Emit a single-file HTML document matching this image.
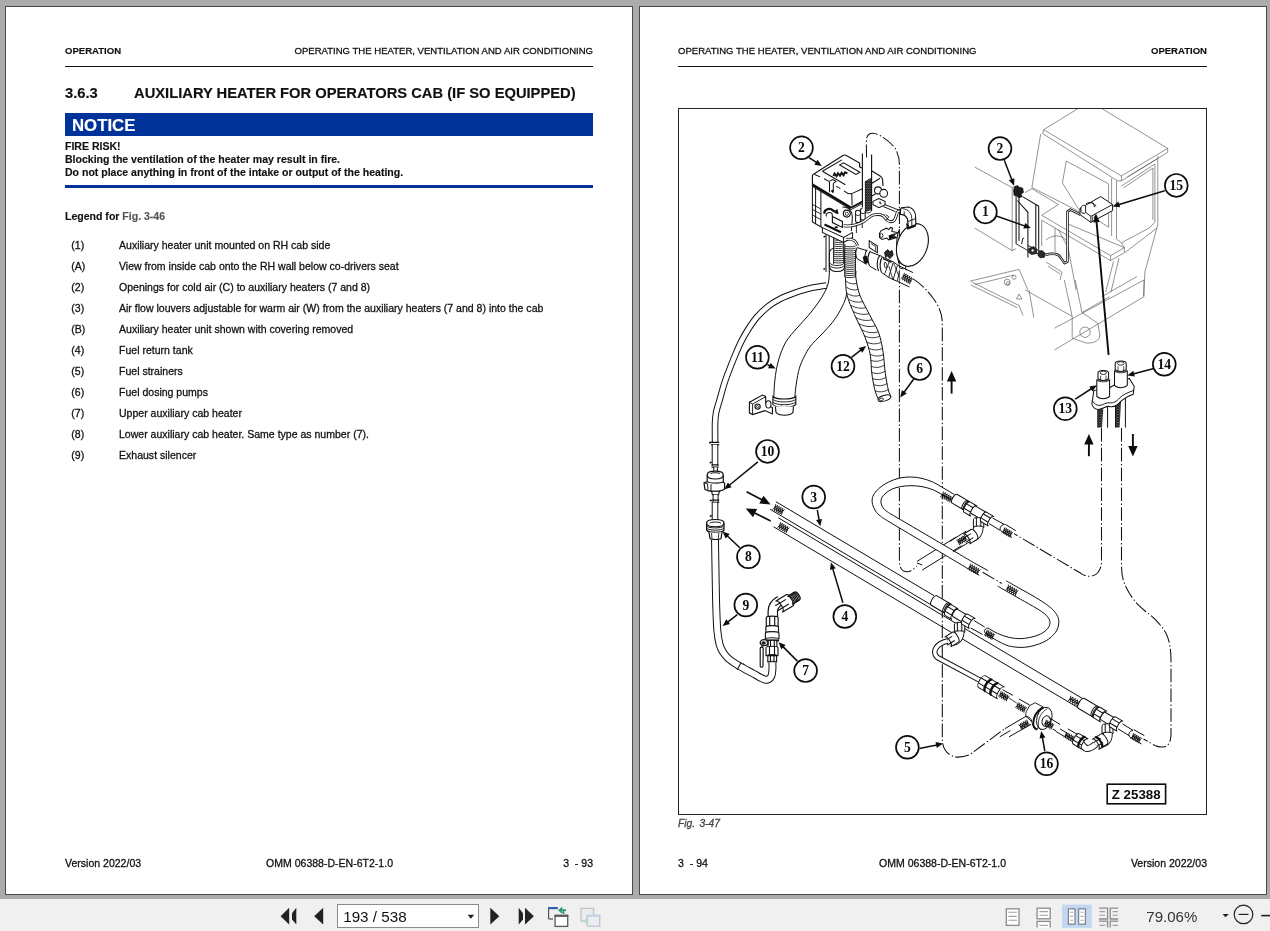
<!DOCTYPE html>
<html>
<head>
<meta charset="utf-8">
<title>OMM 06388-D-EN-6T2-1.0</title>
<style>
html,body{margin:0;padding:0;}
body{width:1270px;height:931px;overflow:hidden;background:#ababab;font-family:"Liberation Sans",sans-serif;color:#111;position:relative;}
.abs{position:absolute;white-space:nowrap;line-height:1;-webkit-text-stroke:0.28px currentColor;}
.abs.b{-webkit-text-stroke:0.15px currentColor;}
.page{position:absolute;top:6px;height:887px;background:#fff;border:1px solid #4a4a4a;box-sizing:content-box;}
#p1{left:5px;width:626px;}
#p2{left:639px;width:626px;}
.hdr{font-size:9.56px;top:45.5px;}
.b{font-weight:bold;}
.rule{position:absolute;height:1px;background:#111;}
.li{font-size:10.54px;}
.ft{font-size:10.54px;top:858px;}
#tb{position:absolute;left:0;top:899px;width:1270px;height:32px;background:#f0f0f0;}
</style>
</head>
<body>
<div class="page" id="p1"></div>
<div class="page" id="p2"></div>

<div id="txt" style="position:absolute;left:0.4px;top:0;width:1270px;height:931px;will-change:transform;">
<!-- LEFT PAGE -->
<div class="abs hdr b" style="left:65px;">OPERATION</div>
<div class="abs hdr" style="right:677px;">OPERATING THE HEATER, VENTILATION AND AIR CONDITIONING</div>
<div class="rule" style="left:65px;top:66px;width:528px;"></div>
<div class="abs b" style="left:65px;top:86px;font-size:14.73px;">3.6.3</div>
<div class="abs b" style="left:134px;top:86px;font-size:14.73px;">AUXILIARY HEATER FOR OPERATORS CAB (IF SO EQUIPPED)</div>
<div style="position:absolute;left:65px;top:113px;width:528px;height:23px;background:#003399;"></div>
<div class="abs b" style="left:72px;top:117.5px;font-size:16.8px;color:#fff;">NOTICE</div>
<div class="abs b" style="left:65px;top:140.5px;font-size:10.54px;">FIRE RISK!</div>
<div class="abs b" style="left:65px;top:153.5px;font-size:10.54px;">Blocking the ventilation of the heater may result in fire.</div>
<div class="abs b" style="left:65px;top:166.5px;font-size:10.54px;">Do not place anything in front of the intake or output of the heating.</div>
<div style="position:absolute;left:65px;top:185px;width:528px;height:3px;background:#003399;"></div>
<div class="abs b" style="left:65px;top:210.8px;font-size:10.54px;">Legend for <span style="color:#555;">Fig. 3-46</span></div>

<div class="abs li" style="left:71.3px;top:240.0px;">(1)</div><div class="abs li" style="left:119px;top:240.0px;">Auxiliary heater unit mounted on RH cab side</div>
<div class="abs li" style="left:71.3px;top:261.0px;">(A)</div><div class="abs li" style="left:119px;top:261.0px;">View from inside cab onto the RH wall below co-drivers seat</div>
<div class="abs li" style="left:71.3px;top:282.0px;">(2)</div><div class="abs li" style="left:119px;top:282.0px;">Openings for cold air (C) to auxiliary heaters (7 and 8)</div>
<div class="abs li" style="left:71.3px;top:303.0px;">(3)</div><div class="abs li" style="left:119px;top:303.0px;">Air flow louvers adjustable for warm air (W) from the auxiliary heaters (7 and 8) into the cab</div>
<div class="abs li" style="left:71.3px;top:324.0px;">(B)</div><div class="abs li" style="left:119px;top:324.0px;">Auxiliary heater unit shown with covering removed</div>
<div class="abs li" style="left:71.3px;top:345.0px;">(4)</div><div class="abs li" style="left:119px;top:345.0px;">Fuel return tank</div>
<div class="abs li" style="left:71.3px;top:366.0px;">(5)</div><div class="abs li" style="left:119px;top:366.0px;">Fuel strainers</div>
<div class="abs li" style="left:71.3px;top:387.0px;">(6)</div><div class="abs li" style="left:119px;top:387.0px;">Fuel dosing pumps</div>
<div class="abs li" style="left:71.3px;top:408.0px;">(7)</div><div class="abs li" style="left:119px;top:408.0px;">Upper auxiliary cab heater</div>
<div class="abs li" style="left:71.3px;top:429.0px;">(8)</div><div class="abs li" style="left:119px;top:429.0px;">Lower auxiliary cab heater. Same type as number (7).</div>
<div class="abs li" style="left:71.3px;top:450.0px;">(9)</div><div class="abs li" style="left:119px;top:450.0px;">Exhaust silencer</div>

<div class="abs ft" style="left:65px;">Version 2022/03</div>
<div class="abs ft" style="left:266px;">OMM 06388-D-EN-6T2-1.0</div>
<div class="abs ft" style="right:677px;">3&nbsp; - 93</div>

<!-- RIGHT PAGE -->
<div class="abs hdr" style="left:678px;">OPERATING THE HEATER, VENTILATION AND AIR CONDITIONING</div>
<div class="abs hdr b" style="right:63px;">OPERATION</div>
<div class="rule" style="left:678px;top:66px;width:529px;"></div>
<div class="abs" style="left:678px;top:819.4px;font-size:10.2px;word-spacing:1.6px;font-style:italic;color:#444;">Fig. 3-47</div>
<div class="abs ft" style="left:678px;">3&nbsp; - 94</div>
<div class="abs ft" style="left:879px;">OMM 06388-D-EN-6T2-1.0</div>
<div class="abs ft" style="right:63px;">Version 2022/03</div>

</div>
<!-- DIAGRAM -->
<svg id="dg" style="position:absolute;left:678px;top:108px;will-change:transform;" width="530" height="708" viewBox="678 108 530 708">
<rect x="678.5" y="108.5" width="528" height="706" fill="#fff" stroke="#222" stroke-width="1"/>
<g fill="none" stroke="#4a4a4a" stroke-width="0.6">
<path d="M1078.1,108.5 L1043.7,129.7 L1121.4,175.9 L1167.7,148.4 L1101.7,108.5"/>
<path d="M1043.7,129.7 L1042.7,133.6 L1117.5,180.8 L1121.4,180.8 L1121.4,175.9"/>
<path d="M1121.4,180.8 L1167.7,152.3 L1167.7,148.4"/>
<path d="M1127.3,177 L1157,159"/>
<path d="M1040.7,134 L1031.9,187.5"/>
<path d="M1111.6,178 L1111.6,236 M1116.5,181 L1116.5,239"/>
<path d="M1066.3,161.1 L1108.6,183.8 L1108.6,227.1 L1078.1,208.4 L1062.4,182.8 Z"/>
<path d="M1121.4,186 L1154.9,164 L1154.9,222.2 L1149,228.1 L1121.4,242.8"/>
<path d="M1123.4,188 L1152.9,168 L1152.9,220"/>
<path d="M1157.8,156 L1157.8,224.1 L1156.9,228 L1145,271.4 L1143.5,296"/>
<path d="M1041.7,215.3 L1110.6,255.6 L1124.4,247.6 L1124.4,252.7 L1110.6,260.6 L1041.7,220.2"/>
<path d="M1110.6,255.6 L1110.6,260.6"/>
<path d="M1068.3,224.1 L1124.4,247.6"/>
<path d="M1116.5,239 L1121.4,242.8 L1124.4,247.6"/>
<path d="M1113.5,261.5 L1105.7,292 M1119,258 L1111,292"/>
<path d="M1067.3,243.8 L1076.1,290"/>
<path d="M1156.9,228 L1125,252.5"/>
<path d="M974.8,167.1 L1012.2,187.7 L1012.2,250.7 L974.8,228.1"/>
<path d="M1012.2,187.7 L1016.1,185.8 M1016.1,248.7 L1012.2,250.7"/>
<path d="M1025,192.6 L1031.9,188.7 L1058.4,204.5 L1041.7,215.3"/>
<path d="M1031.9,187.5 L1080,212"/>
<path d="M1041.7,220.2 L1041.7,246"/>
<path d="M1055,228 L1055,252 M1058,229 L1066,244"/>
<path d="M1046,240 C1052,235 1060,234 1066,240"/>
<path d="M1046,262 L1062,272 M1048,266 L1060,274 M1062,272 L1060,280"/>
<path d="M1054.5,328.2 L1144,280 L1144,296.7 L1054.5,349.9"/>
<path d="M1072.2,316.4 L1072.2,338.1 L1086,343 C1094,343.5 1100,340.5 1099.8,335.1 L1097.8,323.3 L1082,312.5"/>
<path d="M1025,289.8 L1072.2,316.4"/>
<path d="M1064.3,280 L1072.2,316.4 M1075.2,280 L1082,312.5"/>
<path d="M1029,290 L1033.8,317.4"/>
<path d="M971.8,282 L1019.1,305.6 L1023,315.5 M970.8,285 L1017.1,307.6"/>
<path d="M969.8,281.2 L1019.1,269.4 L1027.9,290 M975,284.5 L1014,275"/>
<path d="M1101.7,296.7 L1137,276.5 M1082,312.5 L1109.6,296.7"/>
<path d="M1019,294 L1022,299 L1016.5,299 Z"/>
<circle cx="1085" cy="332.2" r="5.2"/><circle cx="1007.2" cy="282.2" r="3"/><circle cx="1014.1" cy="277.3" r="2"/><circle cx="1008" cy="283.5" r="1.6"/>
</g>
<path d="M866.4,158 L866.4,141 C866.4,135 869.5,133 873,133.2 C880,133.8 890,142 894.4,147.2 C897.5,152 899.4,158 899.4,164 L899.4,561 C899.4,568 902,571.8 907.4,571.8 C910,571.8 913,569.5 917,566.5" fill="none" stroke="#101010" stroke-width="1.05" stroke-dasharray="13.6 2.5 1.4 2.3"/>
<path d="M913.1,278.9 C920,283 928,291 933,298 C939,306 942.3,314 942.3,323 L942.3,739.4 C942.3,750 949,757.1 958,757.1 C963,757.1 967,756 970,754.5 L1005,728.5" fill="none" stroke="#101010" stroke-width="1.05" stroke-dasharray="13.6 2.5 1.4 2.3"/>
<path d="M1101.5,428 L1101.5,561 C1101.5,570 1097,576.3 1089.4,576.3 C1086,576.3 1083,575 1080.8,573.3 L1014,533.6" fill="none" stroke="#101010" stroke-width="1.05" stroke-dasharray="13.6 2.5 1.4 2.3"/>
<path d="M1121.5,428 L1121.5,566 C1121.5,576 1123.5,582 1126.5,588.1 C1129.5,594.5 1134,600.5 1138.8,605.4 C1144,610.8 1151,615 1156.1,620.3 C1162,626.5 1166,632 1167.8,637.6 C1170,644 1171,652 1171,660 L1171,734 C1171,742.5 1168,746.8 1163,747 C1160,747.2 1157.5,746.8 1155,745.5 L1143.5,739" fill="none" stroke="#101010" stroke-width="1.05" stroke-dasharray="13.6 2.5 1.4 2.3"/>
<path d="M982.6,572.2 L1003,584.2" fill="none" stroke="#101010" stroke-width="1.05" stroke-dasharray="13.6 2.5 1.4 2.3"/>
<path d="M778.3,517.8 L1083,698.8" fill="none" stroke="#101010" stroke-width="1.0"/>
<path d="M773.6,526.8 L1083,710.6" fill="none" stroke="#101010" stroke-width="1.0"/>
<path d="M775.9,501.7 L934,595.6" fill="none" stroke="#101010" stroke-width="1.0"/>
<path d="M770.2,509.3 L946,613.7" fill="none" stroke="#101010" stroke-width="1.0"/>
<g transform="translate(778.6,509.6) rotate(30.7)" stroke="#101010" stroke-width="0.85" fill="none"><path d="M-5.2,-3.1 L-3.1,3.1 M-5.2,3.1 L-3.1,-3.1 M-3.1,-3.1 L-1,3.1 M-3.1,3.1 L-1,-3.1 M-1,-3.1 L1.1,3.1 M-1,3.1 L1.1,-3.1 M1.1,-3.1 L3.2,3.1 M1.1,3.1 L3.2,-3.1 M3.2,-3.1 L5.2,3.1 M3.2,3.1 L5.2,-3.1 M-5.2,0 L5.2,0"/></g>
<g transform="translate(783.4,527.6) rotate(30.7)" stroke="#101010" stroke-width="0.85" fill="none"><path d="M-5.2,-3.1 L-3.1,3.1 M-5.2,3.1 L-3.1,-3.1 M-3.1,-3.1 L-1,3.1 M-3.1,3.1 L-1,-3.1 M-1,-3.1 L1.1,3.1 M-1,3.1 L1.1,-3.1 M1.1,-3.1 L3.2,3.1 M1.1,3.1 L3.2,-3.1 M3.2,-3.1 L5.2,3.1 M3.2,3.1 L5.2,-3.1 M-5.2,0 L5.2,0"/></g>
<path d="M956.2,537 L917,561.4 M961.4,545.7 L922.2,570.1" fill="none" stroke="#101010" stroke-width="1.0"/>
<path d="M917,563 L922.2,565" fill="none" stroke="#101010" stroke-width="1.0"/>
<path d="M954.4,494.6 C952.7,493.6 947.5,490.4 944,488.4 C940.5,486.4 937.3,484.1 933.6,482.4 C929.9,480.7 925.8,479.3 922,478.4 C918.2,477.5 914.7,477 910.9,477 C907.1,477 902.8,477.3 899,478.2 C895.2,479.1 891.5,480.6 888.3,482.2 C885.1,483.8 882.3,485.6 880,487.5 C877.7,489.4 875.7,491.6 874.4,493.5 C873.1,495.4 872.5,497.2 872.2,499 C871.9,500.8 872.1,502.5 872.6,504.5 C873.1,506.5 874.2,509.1 875.5,511 C876.8,512.9 878.1,514.2 880.5,516.1 C882.9,518 879.4,515.9 890,522.3 C900.6,528.7 930.8,546.6 944,554.4 C957.2,562.2 964.8,566.8 969,569.3 L976,564 C970.8,561 958.2,553.5 944.9,545.7 C931.6,537.9 905.6,522.6 896,517 C886.4,511.4 889.5,513.2 887.4,511.8 C885.3,510.4 884.5,509.6 883.5,508.3 C882.5,507 881.7,505.3 881.3,504 C880.9,502.7 880.9,501.7 881,500.5 C881.1,499.3 881.4,498.2 882.2,497 C883,495.8 884.4,494.3 886,493 C887.6,491.7 889.4,490.3 891.8,489.2 C894.2,488.1 897.3,487.2 900.5,486.6 C903.7,486 907.3,485.7 910.9,485.7 C914.5,485.7 918.2,485.9 922,486.6 C925.8,487.3 929.9,488.5 933.6,490 C937.3,491.5 940.8,494 944,495.8 C947.2,497.6 951.2,500.1 952.7,501 Z" fill="#fff" stroke="none"/>
<path d="M954.4,494.6 C952.7,493.6 947.5,490.4 944,488.4 C940.5,486.4 937.3,484.1 933.6,482.4 C929.9,480.7 925.8,479.3 922,478.4 C918.2,477.5 914.7,477 910.9,477 C907.1,477 902.8,477.3 899,478.2 C895.2,479.1 891.5,480.6 888.3,482.2 C885.1,483.8 882.3,485.6 880,487.5 C877.7,489.4 875.7,491.6 874.4,493.5 C873.1,495.4 872.5,497.2 872.2,499 C871.9,500.8 872.1,502.5 872.6,504.5 C873.1,506.5 874.2,509.1 875.5,511 C876.8,512.9 878.1,514.2 880.5,516.1 C882.9,518 879.4,515.9 890,522.3 C900.6,528.7 930.8,546.6 944,554.4 C957.2,562.2 964.8,566.8 969,569.3" fill="none" stroke="#101010" stroke-width="1.0"/>
<path d="M952.7,501 C951.2,500.1 947.2,497.6 944,495.8 C940.8,494 937.3,491.5 933.6,490 C929.9,488.5 925.8,487.3 922,486.6 C918.2,485.9 914.5,485.7 910.9,485.7 C907.3,485.7 903.7,486 900.5,486.6 C897.3,487.2 894.2,488.1 891.8,489.2 C889.4,490.3 887.6,491.7 886,493 C884.4,494.3 883,495.8 882.2,497 C881.4,498.2 881.1,499.3 881,500.5 C880.9,501.7 880.9,502.7 881.3,504 C881.7,505.3 882.5,507 883.5,508.3 C884.5,509.6 885.3,510.4 887.4,511.8 C889.5,513.2 886.4,511.4 896,517 C905.6,522.6 931.6,537.9 944.9,545.7 C958.2,553.5 970.8,561 976,564" fill="none" stroke="#101010" stroke-width="1.0"/>
<g transform="translate(946.6,497) rotate(30.3)" stroke="#101010" stroke-width="0.85" fill="none"><path d="M-5.5,-3.1 L-3.3,3.1 M-5.5,3.1 L-3.3,-3.1 M-3.3,-3.1 L-1.1,3.1 M-3.3,3.1 L-1.1,-3.1 M-1.1,-3.1 L1.1,3.1 M-1.1,3.1 L1.1,-3.1 M1.1,-3.1 L3.3,3.1 M1.1,3.1 L3.3,-3.1 M3.3,-3.1 L5.5,3.1 M3.3,3.1 L5.5,-3.1 M-5.5,0 L5.5,0"/></g>
<g transform="translate(974,569.3) rotate(30.3)" stroke="#101010" stroke-width="0.85" fill="none"><path d="M-5.8,-3.1 L-3.5,3.1 M-5.8,3.1 L-3.5,-3.1 M-3.5,-3.1 L-1.2,3.1 M-3.5,3.1 L-1.2,-3.1 M-1.2,-3.1 L1.1,3.1 M-1.2,3.1 L1.1,-3.1 M1.1,-3.1 L3.4,3.1 M1.1,3.1 L3.4,-3.1 M3.4,-3.1 L5.7,3.1 M3.4,3.1 L5.7,-3.1 M-5.8,0 L5.8,0"/></g>
<path d="M976,564 L987.9,570.5 M969,569.3 L979.3,575.3" fill="none" stroke="#101010" stroke-width="1.0"/>
<path d="M1006.2,580.8 C1008.5,582.1 1015.2,585.9 1020,588.6 C1024.8,591.3 1030.3,594.2 1035.2,597.2 C1040.1,600.2 1045.6,603.6 1049.2,606.5 C1052.8,609.4 1055.1,611.9 1056.7,614.6 C1058.3,617.3 1059,619.8 1058.8,622.7 C1058.6,625.7 1057.8,629.3 1055.6,632.3 C1053.4,635.3 1049.7,638.6 1045.9,640.9 C1042.1,643.1 1037.1,644.7 1033,645.8 C1028.9,646.9 1025.3,647.4 1021.2,647.4 C1017.1,647.4 1012.2,646.9 1008.3,645.8 C1004.4,644.7 1001.2,642.8 997.6,640.9 C994,639 988.7,635.6 986.9,634.5 L987.9,628 C989.5,628.9 994.2,631.9 997.6,633.4 C1001,634.9 1004.4,636.3 1008.3,637.2 C1012.2,638.1 1016.7,638.8 1021.2,638.6 C1025.7,638.4 1031.2,637.3 1035.2,636.1 C1039.2,634.9 1042.5,633.2 1044.9,631.3 C1047.3,629.4 1049.1,626.9 1049.7,624.8 C1050.3,622.6 1050.1,620.6 1048.7,618.4 C1047.3,616.2 1045.6,614.3 1041.6,611.5 C1037.5,608.7 1029.7,604.4 1024.4,601.4 C1019.1,598.4 1014.5,595.8 1010,593.2 C1005.5,590.7 999.7,587.3 997.6,586.1 Z" fill="#fff" stroke="none"/>
<path d="M1006.2,580.8 C1008.5,582.1 1015.2,585.9 1020,588.6 C1024.8,591.3 1030.3,594.2 1035.2,597.2 C1040.1,600.2 1045.6,603.6 1049.2,606.5 C1052.8,609.4 1055.1,611.9 1056.7,614.6 C1058.3,617.3 1059,619.8 1058.8,622.7 C1058.6,625.7 1057.8,629.3 1055.6,632.3 C1053.4,635.3 1049.7,638.6 1045.9,640.9 C1042.1,643.1 1037.1,644.7 1033,645.8 C1028.9,646.9 1025.3,647.4 1021.2,647.4 C1017.1,647.4 1012.2,646.9 1008.3,645.8 C1004.4,644.7 1001.2,642.8 997.6,640.9 C994,639 988.7,635.6 986.9,634.5" fill="none" stroke="#101010" stroke-width="1.0"/>
<path d="M997.6,586.1 C999.7,587.3 1005.5,590.7 1010,593.2 C1014.5,595.8 1019.1,598.4 1024.4,601.4 C1029.7,604.4 1037.5,608.7 1041.6,611.5 C1045.6,614.3 1047.3,616.2 1048.7,618.4 C1050.1,620.6 1050.3,622.6 1049.7,624.8 C1049.1,626.9 1047.3,629.4 1044.9,631.3 C1042.5,633.2 1039.2,634.9 1035.2,636.1 C1031.2,637.3 1025.7,638.4 1021.2,638.6 C1016.7,638.8 1012.2,638.1 1008.3,637.2 C1004.4,636.3 1001,634.9 997.6,633.4 C994.2,631.9 989.5,628.9 987.9,628" fill="none" stroke="#101010" stroke-width="1.0"/>
<g transform="translate(1012,590.2) rotate(30)" stroke="#101010" stroke-width="0.85" fill="none"><path d="M-5.8,-3.1 L-3.5,3.1 M-5.8,3.1 L-3.5,-3.1 M-3.5,-3.1 L-1.2,3.1 M-3.5,3.1 L-1.2,-3.1 M-1.2,-3.1 L1.1,3.1 M-1.2,3.1 L1.1,-3.1 M1.1,-3.1 L3.4,3.1 M1.1,3.1 L3.4,-3.1 M3.4,-3.1 L5.7,3.1 M3.4,3.1 L5.7,-3.1 M-5.8,0 L5.8,0"/></g>
<g transform="translate(989.5,634.8) rotate(30)" stroke="#101010" stroke-width="0.85" fill="none"><path d="M-4.5,-3.2 L-2.7,3.2 M-4.5,3.2 L-2.7,-3.2 M-2.7,-3.2 L-0.9,3.2 M-2.7,3.2 L-0.9,-3.2 M-0.9,-3.2 L0.9,3.2 M-0.9,3.2 L0.9,-3.2 M0.9,-3.2 L2.7,3.2 M0.9,3.2 L2.7,-3.2 M2.7,-3.2 L4.5,3.2 M2.7,3.2 L4.5,-3.2 M-4.5,0 L4.5,0"/></g>
<path d="M986.9,634.5 C983.5,632.5 983.8,628.5 987.9,628" fill="none" stroke="#101010" stroke-width="1.0"/>
<path d="M974,620.5 L984.7,627 M970.7,628 L982.6,634.5" fill="none" stroke="#101010" stroke-width="1.0"/>
<path d="M966.2,531.1 L950,541.3 M969.7,541.7 L953,552" fill="none" stroke="#101010" stroke-width="1.0"/>
<g transform="translate(962,540) rotate(-32)" stroke="#101010" stroke-width="0.85" fill="none"><path d="M-4.8,-3 L-2.9,3 M-4.8,3 L-2.9,-3 M-2.9,-3 L-1,3 M-2.9,3 L-1,-3 M-1,-3 L0.9,3 M-1,3 L0.9,-3 M0.9,-3 L2.8,3 M0.9,3 L2.8,-3 M2.8,-3 L4.8,3 M2.8,3 L4.8,-3 M-4.8,0 L4.8,0"/></g>
<g transform="translate(961.2,502.6) rotate(30.7)" stroke="#101010" stroke-width="1.0" fill="none"><path d="M-7.5,-5 L7.5,-5 A2.2,5 0 0 0 7.5,5 L-7.5,5 A2.2,5 0 0 1 -7.5,-5 Z" fill="#fff"/><path d="M4.6,-5 A2.2,5 0 0 0 4.6,5"/><path d="M6.2,-5 A2.2,5 0 0 0 6.2,5"/></g>
<path d="M978.6,524 Q979.5,536 968.5,538.2" fill="none" stroke="#101010" stroke-width="10.1" stroke-linecap="butt" stroke-linejoin="round"/>
<path d="M978.6,524 Q979.5,536 968.5,538.2" fill="none" stroke="#fff" stroke-width="8.3" stroke-linecap="butt" stroke-linejoin="round"/>
<g transform="translate(979.5,513.4) rotate(30.7)" stroke="#101010" stroke-width="1.0" fill="none"><path d="M-7,-4.3 L7,-4.3 A1.9,4.3 0 0 0 7,4.3 L-7,4.3 A1.9,4.3 0 0 1 -7,-4.3 Z" fill="#fff"/></g>
<g transform="translate(978.6,523.4) rotate(90)" stroke="#101010" stroke-width="1.0" fill="none"><path d="M-4.2,-5.2 L4.2,-5.2 A1.6,5.2 0 0 0 4.2,5.2 L-4.2,5.2 A1.6,5.2 0 0 1 -4.2,-5.2 Z" fill="#fff"/><path d="M-5.7,-2.2 L2.8,-2.2 M-5.7,2.2 L2.8,2.2"/></g>
<g transform="translate(970.6,509.2) rotate(30.7)" stroke="#101010" stroke-width="1.0" fill="none"><path d="M-3.8,-6 L3.8,-6 A2.6,6 0 0 0 3.8,6 L-3.8,6 A2.6,6 0 0 1 -3.8,-6 Z" fill="#fff"/><path d="M-6.1,-2.5 L1.4,-2.5 M-6.1,2.5 L1.4,2.5"/></g>
<g transform="translate(987.6,519.2) rotate(30.7)" stroke="#101010" stroke-width="1.0" fill="none"><path d="M-4.2,-5.5 L4.2,-5.5 A2.4,5.5 0 0 0 4.2,5.5 L-4.2,5.5 A2.4,5.5 0 0 1 -4.2,-5.5 Z" fill="#fff"/><path d="M-6.4,-2.3 L2.1,-2.3 M-6.4,2.3 L2.1,2.3"/></g>
<g transform="translate(970.2,536.8) rotate(-32)" stroke="#101010" stroke-width="1.0" fill="none"><path d="M-4.5,-5.8 L4.5,-5.8 A2.5,5.8 0 0 1 4.5,5.8 L-4.5,5.8 A2.5,5.8 0 0 0 -4.5,-5.8 Z" fill="#fff"/><path d="M-6.8,-2.4 L2.2,-2.4 M-6.8,2.4 L2.2,2.4"/></g>
<path d="M992.5,518 L1004.5,524.6 M989,523.6 L1000.2,530.4" fill="none" stroke="#101010" stroke-width="1.0"/>
<path d="M1004.5,524.3 C1000.5,525 998.8,529 1001.2,531.2" fill="none" stroke="#101010" stroke-width="1.0"/>
<path d="M1005.2,524.3 L1015.8,530.7 M1001.2,531.2 L1012,537.5" fill="none" stroke="#101010" stroke-width="1.0"/>
<g transform="translate(1007.4,532.4) rotate(30.7)" stroke="#101010" stroke-width="0.85" fill="none"><path d="M-4.8,-3 L-2.9,3 M-4.8,3 L-2.9,-3 M-2.9,-3 L-1,3 M-2.9,3 L-1,-3 M-1,-3 L0.9,3 M-1,3 L0.9,-3 M0.9,-3 L2.8,3 M0.9,3 L2.8,-3 M2.8,-3 L4.8,3 M2.8,3 L4.8,-3 M-4.8,0 L4.8,0"/></g>
<g transform="translate(941.5,604.9) rotate(30.7)" stroke="#101010" stroke-width="1.0" fill="none"><path d="M-8.5,-5.5 L8.5,-5.5 A2.4,5.5 0 0 0 8.5,5.5 L-8.5,5.5 A2.4,5.5 0 0 1 -8.5,-5.5 Z" fill="#fff"/><path d="M5.6,-5.5 A2.4,5.5 0 0 0 5.6,5.5"/><path d="M7.2,-5.5 A2.4,5.5 0 0 0 7.2,5.5"/></g>
<path d="M959.6,629 Q960.3,641 950.5,641.2" fill="none" stroke="#101010" stroke-width="9.9" stroke-linecap="butt" stroke-linejoin="round"/>
<path d="M959.6,629 Q960.3,641 950.5,641.2" fill="none" stroke="#fff" stroke-width="8.1" stroke-linecap="butt" stroke-linejoin="round"/>
<g transform="translate(961.4,616.6) rotate(30.7)" stroke="#101010" stroke-width="1.0" fill="none"><path d="M-7,-4.3 L7,-4.3 A1.9,4.3 0 0 0 7,4.3 L-7,4.3 A1.9,4.3 0 0 1 -7,-4.3 Z" fill="#fff"/></g>
<g transform="translate(959.6,628.2) rotate(90)" stroke="#101010" stroke-width="1.0" fill="none"><path d="M-4.2,-5.2 L4.2,-5.2 A1.6,5.2 0 0 0 4.2,5.2 L-4.2,5.2 A1.6,5.2 0 0 1 -4.2,-5.2 Z" fill="#fff"/><path d="M-5.7,-2.2 L2.8,-2.2 M-5.7,2.2 L2.8,2.2"/></g>
<g transform="translate(951.8,612.2) rotate(30.7)" stroke="#101010" stroke-width="1.0" fill="none"><path d="M-3.8,-6.2 L3.8,-6.2 A2.8,6.2 0 0 0 3.8,6.2 L-3.8,6.2 A2.8,6.2 0 0 1 -3.8,-6.2 Z" fill="#fff"/><path d="M-6.2,-2.6 L1.3,-2.6 M-6.2,2.6 L1.3,2.6"/></g>
<g transform="translate(968.8,621.5) rotate(30.7)" stroke="#101010" stroke-width="1.0" fill="none"><path d="M-4.2,-5.8 L4.2,-5.8 A2.5,5.8 0 0 0 4.2,5.8 L-4.2,5.8 A2.5,5.8 0 0 1 -4.2,-5.8 Z" fill="#fff"/><path d="M-6.5,-2.4 L2,-2.4 M-6.5,2.4 L2,2.4"/></g>
<g transform="translate(951.5,639.6) rotate(-32)" stroke="#101010" stroke-width="1.0" fill="none"><path d="M-4.5,-5.8 L4.5,-5.8 A2.5,5.8 0 0 1 4.5,5.8 L-4.5,5.8 A2.5,5.8 0 0 0 -4.5,-5.8 Z" fill="#fff"/><path d="M-6.8,-2.4 L2.2,-2.4 M-6.8,2.4 L2.2,2.4"/></g>
<path d="M947.5,641 C943,642 938,645 936,648 C934,651 934.6,655 937.4,657.5 L983,681.9" fill="none" stroke="#101010" stroke-width="5.6" stroke-linecap="butt" stroke-linejoin="round"/>
<path d="M947.5,641 C943,642 938,645 936,648 C934,651 934.6,655 937.4,657.5 L983,681.9" fill="none" stroke="#fff" stroke-width="3.6" stroke-linecap="butt" stroke-linejoin="round"/>
<g transform="translate(991.6,687.4) rotate(30.7)" stroke="#101010" stroke-width="1.0" fill="none"><path d="M-11,-6.8 L11,-6.8 A3,6.8 0 0 0 11,6.8 L-11,6.8 A3,6.8 0 0 1 -11,-6.8 Z" fill="#fff"/><path d="M-4,-6.8 A3,6.8 0 0 0 -4,6.8"/><path d="M3,-6.8 A3,6.8 0 0 0 3,6.8"/><path d="M-3.2,-6.8 A3,6.8 0 0 0 -3.2,6.8" stroke-width="2.2"/><path d="M3.8,-6.8 A3,6.8 0 0 0 3.8,6.8" stroke-width="2.2"/><path d="M-13.7,-2.8 L8.3,-2.8 M-13.7,2.8 L8.3,2.8"/></g>
<path d="M1002.6,689.7 L1012.9,695.4" fill="none" stroke="#101010" stroke-width="1.0"/>
<g transform="translate(1003.8,696.2) rotate(30.7)" stroke="#101010" stroke-width="0.85" fill="none"><path d="M-4.8,-3 L-2.9,3 M-4.8,3 L-2.9,-3 M-2.9,-3 L-1,3 M-2.9,3 L-1,-3 M-1,-3 L0.9,3 M-1,3 L0.9,-3 M0.9,-3 L2.8,3 M0.9,3 L2.8,-3 M2.8,-3 L4.8,3 M2.8,3 L4.8,-3 M-4.8,0 L4.8,0"/></g>
<path d="M1008.3,697.5 L1016.8,703.2" fill="none" stroke="#101010" stroke-width="0.8"/>
<path d="M1018.9,698.9 L1029.6,705" fill="none" stroke="#101010" stroke-width="1.0"/>
<g transform="translate(1021,707.5) rotate(30.7)" stroke="#101010" stroke-width="0.85" fill="none"><path d="M-5,-3 L-3,3 M-5,3 L-3,-3 M-3,-3 L-1,3 M-3,3 L-1,-3 M-1,-3 L1,3 M-1,3 L1,-3 M1,-3 L3,3 M1,3 L3,-3 M3,-3 L5,3 M3,3 L5,-3 M-5,0 L5,0"/></g>
<path d="M1004.8,728.7 L1026,716.3 M1009,736.8 L1031,724.4 M999.8,736.8 L1010.4,730.5" fill="none" stroke="#101010" stroke-width="1.0"/>
<g transform="translate(1024.2,724.8) rotate(-30)" stroke="#101010" stroke-width="0.85" fill="none"><path d="M-4.8,-3 L-2.9,3 M-4.8,3 L-2.9,-3 M-2.9,-3 L-1,3 M-2.9,3 L-1,-3 M-1,-3 L0.9,3 M-1,3 L0.9,-3 M0.9,-3 L2.8,3 M0.9,3 L2.8,-3 M2.8,-3 L4.8,3 M2.8,3 L4.8,-3 M-4.8,0 L4.8,0"/></g>
<path d="M1029.6,705.6 L1035.2,702.8 L1043.4,707.2 L1037.6,729.3 C1033,727.5 1031.8,722 1031.8,721.6 L1026,716.5 C1025.4,714.5 1026,712.5 1026.3,711.6 Z" fill="#fff" stroke="#101010" stroke-width="0.9"/>
<path d="M1026,716.5 C1029,716.3 1031.5,719 1031.8,721.6" fill="none" stroke="#101010" stroke-width="1.0"/>
<ellipse cx="1044.3" cy="718.4" rx="7.4" ry="11.4" transform="rotate(17 1044.3 718.4)" fill="#fff" stroke="#101010" stroke-width="0.9"/>
<path d="M1043.2,707.2 C1037,711 1033.4,717 1033.2,723.5 C1033.2,726 1034.6,728.5 1036.8,729.6" fill="none" stroke="#101010" stroke-width="2.0"/>
<path d="M1047.5,708.5 C1041.5,712 1038,718 1038.3,725.2 C1038.5,727.5 1039.5,729 1041,729.8" fill="none" stroke="#101010" stroke-width="0.8"/>
<ellipse cx="1046.2" cy="721.2" rx="4.1" ry="5.6" transform="rotate(17 1046.2 721.2)" fill="#fff" stroke="#101010" stroke-width="0.9"/>
<path d="M1048.7,717.4 L1060,724.4 M1052.8,729 L1056,731" fill="none" stroke="#101010" stroke-width="1.0"/>
<g transform="translate(1048.8,724.6) rotate(30.7)" stroke="#101010" stroke-width="0.85" fill="none"><path d="M-4.5,-3 L-2.7,3 M-4.5,3 L-2.7,-3 M-2.7,-3 L-0.9,3 M-2.7,3 L-0.9,-3 M-0.9,-3 L0.9,3 M-0.9,3 L0.9,-3 M0.9,-3 L2.7,3 M0.9,3 L2.7,-3 M2.7,-3 L4.5,3 M2.7,3 L4.5,-3 M-4.5,0 L4.5,0"/></g>
<path d="M1056,731.5 L1064.5,736.6" fill="none" stroke="#101010" stroke-width="1.0"/>
<g transform="translate(1075,701.6) rotate(30.7)" stroke="#101010" stroke-width="0.85" fill="none"><path d="M-6.5,-2.8 L-3.9,2.8 M-6.5,2.8 L-3.9,-2.8 M-3.9,-2.8 L-1.3,2.8 M-3.9,2.8 L-1.3,-2.8 M-1.3,-2.8 L1.3,2.8 M-1.3,2.8 L1.3,-2.8 M1.3,-2.8 L3.9,2.8 M1.3,2.8 L3.9,-2.8 M3.9,-2.8 L6.5,2.8 M3.9,2.8 L6.5,-2.8 M-6.5,0 L6.5,0"/></g>
<g transform="translate(1089.4,708.2) rotate(30.7)" stroke="#101010" stroke-width="1.0" fill="none"><path d="M-9.2,-5.8 L9.2,-5.8 A2.5,5.8 0 0 0 9.2,5.8 L-9.2,5.8 A2.5,5.8 0 0 1 -9.2,-5.8 Z" fill="#fff"/><path d="M6.2,-5.8 A2.5,5.8 0 0 0 6.2,5.8"/><path d="M7.8,-5.8 A2.5,5.8 0 0 0 7.8,5.8"/></g>
<path d="M1107.5,730 Q1109.5,743 1099,742.5" fill="none" stroke="#101010" stroke-width="9.9" stroke-linecap="butt" stroke-linejoin="round"/>
<path d="M1107.5,730 Q1109.5,743 1099,742.5" fill="none" stroke="#fff" stroke-width="8.1" stroke-linecap="butt" stroke-linejoin="round"/>
<g transform="translate(1109.3,719.8) rotate(30.7)" stroke="#101010" stroke-width="1.0" fill="none"><path d="M-7,-4.3 L7,-4.3 A1.9,4.3 0 0 0 7,4.3 L-7,4.3 A1.9,4.3 0 0 1 -7,-4.3 Z" fill="#fff"/></g>
<g transform="translate(1107.5,729.6) rotate(90)" stroke="#101010" stroke-width="1.0" fill="none"><path d="M-4.2,-5.5 L4.2,-5.5 A1.6,5.5 0 0 0 4.2,5.5 L-4.2,5.5 A1.6,5.5 0 0 1 -4.2,-5.5 Z" fill="#fff"/><path d="M-5.7,-2.3 L2.8,-2.3 M-5.7,2.3 L2.8,2.3"/></g>
<g transform="translate(1100.6,714.8) rotate(30.7)" stroke="#101010" stroke-width="1.0" fill="none"><path d="M-3.8,-6.2 L3.8,-6.2 A2.8,6.2 0 0 0 3.8,6.2 L-3.8,6.2 A2.8,6.2 0 0 1 -3.8,-6.2 Z" fill="#fff"/><path d="M-6.2,-2.6 L1.3,-2.6 M-6.2,2.6 L1.3,2.6"/></g>
<g transform="translate(1116.6,724.2) rotate(30.7)" stroke="#101010" stroke-width="1.0" fill="none"><path d="M-4.2,-5.8 L4.2,-5.8 A2.5,5.8 0 0 0 4.2,5.8 L-4.2,5.8 A2.5,5.8 0 0 1 -4.2,-5.8 Z" fill="#fff"/><path d="M-6.5,-2.4 L2,-2.4 M-6.5,2.4 L2,2.4"/></g>
<g transform="translate(1099.6,741.8) rotate(-32)" stroke="#101010" stroke-width="1.0" fill="none"><path d="M-5,-6 L5,-6 A2.6,6 0 0 1 5,6 L-5,6 A2.6,6 0 0 0 -5,-6 Z" fill="#fff"/><path d="M-1.5,-6 A2.6,6 0 0 1 -1.5,6" stroke-width="2.2"/><path d="M-7.4,-2.5 L2.6,-2.5 M-7.4,2.5 L2.6,2.5"/></g>
<path d="M1095.5,744.5 C1091,748 1088,749.5 1085.5,748 C1083.5,746.5 1082.8,745.5 1081.5,744" fill="none" stroke="#101010" stroke-width="7.2" stroke-linecap="butt" stroke-linejoin="round"/>
<path d="M1095.5,744.5 C1091,748 1088,749.5 1085.5,748 C1083.5,746.5 1082.8,745.5 1081.5,744" fill="none" stroke="#fff" stroke-width="5.2" stroke-linecap="butt" stroke-linejoin="round"/>
<g transform="translate(1080.8,741.6) rotate(30.7)" stroke="#101010" stroke-width="1.0" fill="none"><path d="M-5,-6 L5,-6 A2.6,6 0 0 0 5,6 L-5,6 A2.6,6 0 0 1 -5,-6 Z" fill="#fff"/><path d="M1.6,-6 A2.6,6 0 0 0 1.6,6" stroke-width="2.2"/><path d="M-7.4,-2.5 L2.6,-2.5 M-7.4,2.5 L2.6,2.5"/></g>
<path d="M1060,728.9 L1067.1,733.2 M1067.8,728.9 L1077.7,734.5" fill="none" stroke="#101010" stroke-width="1.0"/>
<g transform="translate(1069.2,737) rotate(30.7)" stroke="#101010" stroke-width="0.85" fill="none"><path d="M-4.8,-3 L-2.9,3 M-4.8,3 L-2.9,-3 M-2.9,-3 L-1,3 M-2.9,3 L-1,-3 M-1,-3 L0.9,3 M-1,3 L0.9,-3 M0.9,-3 L2.8,3 M0.9,3 L2.8,-3 M2.8,-3 L4.8,3 M2.8,3 L4.8,-3 M-4.8,0 L4.8,0"/></g>
<path d="M1122.4,723.9 L1133,730.3 M1118.1,728.9 L1129.5,735.9" fill="none" stroke="#101010" stroke-width="1.0"/>
<path d="M1133,730.3 C1129.3,731 1127.6,735 1130,737.2" fill="none" stroke="#101010" stroke-width="1.0"/>
<path d="M1133.7,729.6 L1144.3,735.6 M1130,737.2 L1141.5,744" fill="none" stroke="#101010" stroke-width="1.0"/>
<g transform="translate(1136.2,738.2) rotate(30.7)" stroke="#101010" stroke-width="0.85" fill="none"><path d="M-4.8,-3 L-2.9,3 M-4.8,3 L-2.9,-3 M-2.9,-3 L-1,3 M-2.9,3 L-1,-3 M-1,-3 L0.9,3 M-1,3 L0.9,-3 M0.9,-3 L2.8,3 M0.9,3 L2.8,-3 M2.8,-3 L4.8,3 M2.8,3 L4.8,-3 M-4.8,0 L4.8,0"/></g>
<path d="M826.5,285.4 C823.8,285.9 815.3,287.1 810,288.3 C804.7,289.6 799.8,291.1 794.8,292.9 C789.8,294.7 784.5,296.7 780,299 C775.5,301.3 771.7,303.6 767.9,306.6 C764.1,309.6 760.4,313.1 757,317 C753.6,320.9 750.5,325.7 747.8,329.9 C745.1,334.1 743.1,337.7 741,342 C738.9,346.3 736.8,351.2 735,355.5 C733.2,359.8 731.8,363.4 730,368 C728.2,372.6 726.2,377.7 724.5,383 C722.8,388.3 721,395.2 719.6,400 C718.2,404.8 717,408.3 716.2,412 C715.5,415.7 715.3,417.3 715.1,422.3 C714.9,427.3 715.1,438.7 715.1,442" fill="none" stroke="#101010" stroke-width="6.6" stroke-linecap="butt" stroke-linejoin="round"/>
<path d="M826.5,285.4 C823.8,285.9 815.3,287.1 810,288.3 C804.7,289.6 799.8,291.1 794.8,292.9 C789.8,294.7 784.5,296.7 780,299 C775.5,301.3 771.7,303.6 767.9,306.6 C764.1,309.6 760.4,313.1 757,317 C753.6,320.9 750.5,325.7 747.8,329.9 C745.1,334.1 743.1,337.7 741,342 C738.9,346.3 736.8,351.2 735,355.5 C733.2,359.8 731.8,363.4 730,368 C728.2,372.6 726.2,377.7 724.5,383 C722.8,388.3 721,395.2 719.6,400 C718.2,404.8 717,408.3 716.2,412 C715.5,415.7 715.3,417.3 715.1,422.3 C714.9,427.3 715.1,438.7 715.1,442" fill="none" stroke="#fff" stroke-width="4.6" stroke-linecap="butt" stroke-linejoin="round"/>
<path d="M711.2,442.4 H719.2 M711.2,444.6 H719.2" fill="none" stroke="#101010" stroke-width="1.32"/>
<path d="M709.2,442.9 L711.4,442.2" fill="none" stroke="#101010" stroke-width="1.68"/>
<path d="M715,444.6 V466" fill="none" stroke="#101010" stroke-width="6.6" stroke-linecap="butt" stroke-linejoin="round"/>
<path d="M715,444.6 V466" fill="none" stroke="#fff" stroke-width="4.6" stroke-linecap="butt" stroke-linejoin="round"/>
<path d="M711.6,464.9 H718.6 M711.6,467.1 H718.6" fill="none" stroke="#101010" stroke-width="1.32"/>
<path d="M709.6,462.8 L711.6,462.2" fill="none" stroke="#101010" stroke-width="1.68"/>
<path d="M715.6,467.3 V472.5" fill="none" stroke="#101010" stroke-width="4.6" stroke-linecap="butt" stroke-linejoin="round"/>
<path d="M715.6,467.3 V472.5" fill="none" stroke="#fff" stroke-width="2.6" stroke-linecap="butt" stroke-linejoin="round"/>
<path d="M707.2,475 C707.2,472.6 711,471.2 715.3,471.2 C719.8,471.2 723.3,472.6 723.3,475 L723.3,482 L724.6,483.2 L724.6,489 C722,491 718,491.4 714.5,491.4 C711,491.4 707,490.6 704.9,489.2 L704,482.8 L707.2,481.6 Z" fill="#fff" stroke="#101010" stroke-width="1.2"/>
<path d="M707.2,475 C707.2,477.6 711,479 715.3,479 C719.8,479 723.3,477.6 723.3,475" fill="none" stroke="#101010" stroke-width="1.08"/>
<path d="M707.2,481.6 C710,483.4 720,483.6 723.3,482" fill="none" stroke="#101010" stroke-width="1.08"/>
<path d="M704,482.8 L707.6,483.8 L707.9,489.8 M711,484.2 V491" fill="none" stroke="#101010" stroke-width="0.96"/>
<path d="M710.5,473.6 C712,472.4 718.5,472.4 720,473.6" fill="none" stroke="#101010" stroke-width="0.96"/>
<path d="M711.6,491.3 H719.4 L718.6,494.6 H712.4 Z" fill="#fff" stroke="#101010" stroke-width="1.08"/>
<path d="M715.6,494.6 V502" fill="none" stroke="#101010" stroke-width="6" stroke-linecap="butt" stroke-linejoin="round"/>
<path d="M715.6,494.6 V502" fill="none" stroke="#fff" stroke-width="4" stroke-linecap="butt" stroke-linejoin="round"/>
<path d="M711.8,500.2 H719.2 M711.8,502.4 H719.2" fill="none" stroke="#101010" stroke-width="1.32"/>
<path d="M709.8,500.8 L711.8,500.2" fill="none" stroke="#101010" stroke-width="1.68"/>
<path d="M715,502.6 V520" fill="none" stroke="#101010" stroke-width="6.6" stroke-linecap="butt" stroke-linejoin="round"/>
<path d="M715,502.6 V520" fill="none" stroke="#fff" stroke-width="4.6" stroke-linecap="butt" stroke-linejoin="round"/>
<path d="M709.8,516.3 L711.8,515.8" fill="none" stroke="#101010" stroke-width="1.68"/>
<path d="M706.6,523 C706.6,520.8 710.5,519.5 715.3,519.5 C720.2,519.5 724,520.8 724,523 L724,530.2 L722,532.2 L721,538.6 C719.5,539.8 711.5,539.8 710,538.6 L709,532.2 L706.6,530.2 Z" fill="#fff" stroke="#101010" stroke-width="1.2"/>
<path d="M706.6,523 C706.6,525.6 710.5,526.8 715.3,526.8 C720.2,526.8 724,525.6 724,523" fill="none" stroke="#101010" stroke-width="1.08"/>
<path d="M706.6,526 C709,528.6 721.5,528.6 724,526 M706.6,528.2 C709,530.8 721.5,530.8 724,528.2 M707,530.4 C710,532.8 721,532.8 723.8,530.4" fill="none" stroke="#101010" stroke-width="0.96"/>
<path d="M709.5,523.3 C711,521.6 719.5,521.6 721,523.3" fill="none" stroke="#101010" stroke-width="0.96"/>
<path d="M711.5,533 L712,539 M718.8,533 L718.3,539" fill="none" stroke="#101010" stroke-width="0.84"/>
<path d="M715,540 C715.1,545.8 715.4,563.5 715.6,575 C715.8,586.5 716,599.5 716.3,608.7 C716.6,617.9 716.8,624 717.3,630 C717.8,636 718.6,640.8 719.6,644.5 C720.6,648.2 721.5,649.6 723,652 C724.5,654.4 726.3,656.6 728.5,658.6 C730.7,660.6 733.4,662.3 736,664 C738.6,665.7 741.2,667 744,668.6 C746.8,670.2 750.3,671.9 753,673.4 C755.7,674.9 758.4,676.6 760.4,677.6 C762.4,678.6 763.6,679.3 765,679.6 C766.4,679.9 767.5,679.8 768.6,679.2 C769.7,678.6 770.8,677.5 771.4,676 C772,674.5 772.2,672.2 772.4,670 C772.6,667.8 772.4,663.8 772.4,662.5" fill="none" stroke="#101010" stroke-width="7.9" stroke-linecap="butt" stroke-linejoin="round"/>
<path d="M715,540 C715.1,545.8 715.4,563.5 715.6,575 C715.8,586.5 716,599.5 716.3,608.7 C716.6,617.9 716.8,624 717.3,630 C717.8,636 718.6,640.8 719.6,644.5 C720.6,648.2 721.5,649.6 723,652 C724.5,654.4 726.3,656.6 728.5,658.6 C730.7,660.6 733.4,662.3 736,664 C738.6,665.7 741.2,667 744,668.6 C746.8,670.2 750.3,671.9 753,673.4 C755.7,674.9 758.4,676.6 760.4,677.6 C762.4,678.6 763.6,679.3 765,679.6 C766.4,679.9 767.5,679.8 768.6,679.2 C769.7,678.6 770.8,677.5 771.4,676 C772,674.5 772.2,672.2 772.4,670 C772.6,667.8 772.4,663.8 772.4,662.5" fill="none" stroke="#fff" stroke-width="5.9" stroke-linecap="butt" stroke-linejoin="round"/>
<path d="M741.2,662.6 L737.2,669.8" fill="none" stroke="#101010" stroke-width="1.08"/>
<path d="M743,663.6 L744.6,664.6" fill="none" stroke="#101010" stroke-width="1.08"/>
<path d="M772.8,618.5 V611.5 Q772.8,604.6 780,600.6" fill="none" stroke="#101010" stroke-width="10.6" stroke-linecap="butt" stroke-linejoin="round"/>
<path d="M772.8,618.5 V611.5 Q772.8,604.6 780,600.6" fill="none" stroke="#fff" stroke-width="8.2" stroke-linecap="butt" stroke-linejoin="round"/>
<g transform="translate(784.2,603.6) rotate(-31)" stroke="#101010" stroke-width="1.15" fill="none"><path d="M-6.2,-6.5 L6.2,-6.5 A2.9,6.5 0 0 1 6.2,6.5 L-6.2,6.5 A2.9,6.5 0 0 0 -6.2,-6.5 Z" fill="#fff"/><path d="M-8.8,-2.7 L3.7,-2.7 M-8.8,2.7 L3.7,2.7"/></g>
<g transform="translate(793.4,598.2) rotate(-31)" stroke="#101010" stroke-width="1.1" fill="none"><path d="M-4.3,-4.7 L4.3,-4.7 A2.1,4.7 0 0 1 4.3,4.7 L-4.3,4.7 A2.1,4.7 0 0 0 -4.3,-4.7 Z" fill="#d8d8d8"/><path d="M-3,-4.7 A2.1,4.7 0 0 1 -3,4.7"/><path d="M-1.5,-4.7 A2.1,4.7 0 0 1 -1.5,4.7"/><path d="M0,-4.7 A2.1,4.7 0 0 1 0,4.7"/><path d="M1.5,-4.7 A2.1,4.7 0 0 1 1.5,4.7"/><path d="M3,-4.7 A2.1,4.7 0 0 1 3,4.7"/></g>
<g transform="translate(772.2,622.4) rotate(90)" stroke="#101010" stroke-width="1.15" fill="none"><path d="M-4.8,-5.9 L4.8,-5.9 A1.5,5.9 0 0 0 4.8,5.9 L-4.8,5.9 A1.5,5.9 0 0 1 -4.8,-5.9 Z" fill="#fff"/><path d="M-6.2,-2.5 L3.4,-2.5 M-6.2,2.5 L3.4,2.5"/></g>
<g transform="translate(772.2,630.3) rotate(90)" stroke="#101010" stroke-width="1.15" fill="none"><path d="M-3,-6.3 L3,-6.3 A1.6,6.3 0 0 0 3,6.3 L-3,6.3 A1.6,6.3 0 0 1 -3,-6.3 Z" fill="#fff"/></g>
<g transform="translate(772.2,636.3) rotate(90)" stroke="#101010" stroke-width="1.15" fill="none"><path d="M-3,-6.8 L3,-6.8 A1.6,6.8 0 0 0 3,6.8 L-3,6.8 A1.6,6.8 0 0 1 -3,-6.8 Z" fill="#fff"/></g>
<path d="M765.6,640.4 H779" fill="none" stroke="#101010" stroke-width="2.0"/>
<g transform="translate(772.4,646) rotate(90)" stroke="#101010" stroke-width="1.1" fill="none"><path d="M-4.5,-4.5 L4.5,-4.5 A1.3,4.5 0 0 0 4.5,4.5 L-4.5,4.5 A1.3,4.5 0 0 1 -4.5,-4.5 Z" fill="#fff"/><path d="M-5.7,-1.9 L3.3,-1.9 M-5.7,1.9 L3.3,1.9"/></g>
<g transform="translate(772,652) rotate(90)" stroke="#101010" stroke-width="1.1" fill="none"><path d="M-4.2,-6 L4.2,-6 A1.5,6 0 0 0 4.2,6 L-4.2,6 A1.5,6 0 0 1 -4.2,-6 Z" fill="#fff"/><path d="M-5.6,-2.5 L2.9,-2.5 M-5.6,2.5 L2.9,2.5"/></g>
<g transform="translate(772.2,659.2) rotate(90)" stroke="#101010" stroke-width="1.1" fill="none"><path d="M-3.3,-4.4 L3.3,-4.4 A1.2,4.4 0 0 0 3.3,4.4 L-3.3,4.4 A1.2,4.4 0 0 1 -3.3,-4.4 Z" fill="#fff"/><path d="M-4.4,-1.8 L2.2,-1.8 M-4.4,1.8 L2.2,1.8"/></g>
<path d="M767.6,655.6 H776.8" fill="none" stroke="#101010" stroke-width="1.4"/>
<ellipse cx="764.2" cy="642.6" rx="4" ry="3" fill="#fff" stroke="#101010" stroke-width="1.3"/>
<ellipse cx="763.6" cy="643" rx="2.2" ry="1.7" fill="#222"/>
<path d="M766.5,640.4 L768.2,644.8" fill="none" stroke="#101010" stroke-width="1.0"/>
<path d="M760.2,648.4 C760.2,646.8 762.8,646.8 763.2,648 L763,666.2 C762.8,667.6 760.4,667.6 760.2,666.2 Z" fill="#fff" stroke="#101010" stroke-width="1.15"/>
<path d="M762,645.6 L761.8,647.4" fill="none" stroke="#101010" stroke-width="1.2"/>
<path d="M746.6,491.8 L762.3,500.1" stroke="#0c0c0c" stroke-width="1.7" fill="none"/>
<path d="M770.7,504.6 L759.3,503.6 L763.5,495.7 Z" fill="#0c0c0c"/>
<path d="M770.7,521.1 L754.2,512.7" stroke="#0c0c0c" stroke-width="1.7" fill="none"/>
<path d="M745.7,508.4 L757.1,509.1 L753,517.2 Z" fill="#0c0c0c"/>
<path d="M951.6,393.6 L951.6,380.6" stroke="#0c0c0c" stroke-width="1.9" fill="none"/>
<path d="M951.6,371.1 L956.3,381.6 L946.9,381.6 Z" fill="#0c0c0c"/>
<path d="M1088.9,456.2 L1088.9,443.5" stroke="#0c0c0c" stroke-width="1.9" fill="none"/>
<path d="M1088.9,434 L1093.6,444.5 L1084.2,444.5 Z" fill="#0c0c0c"/>
<path d="M1132.9,434 L1132.9,446.9" stroke="#0c0c0c" stroke-width="1.9" fill="none"/>
<path d="M1132.9,456.4 L1128.2,445.9 L1137.6,445.9 Z" fill="#0c0c0c"/>
<path d="M829.5,271 C829.3,272.8 829.2,278.6 828.5,282 C827.8,285.4 826.8,288 825,291.5 C823.2,295 820.8,299 818,303 C815.2,307 812,311.1 808.5,315.3 C805,319.5 800.6,323.8 797,328 C793.4,332.2 789.4,336.5 786.6,340.8 C783.9,345.1 782.2,349.4 780.5,354 C778.8,358.6 777.6,363.4 776.6,368.2 C775.6,373 775.1,378.1 774.6,383 C774.1,387.9 773.9,395.1 773.8,397.5 L794.8,397.5 C795.1,395.1 795.6,387.9 796.4,383 C797.2,378.1 798.1,372.5 799.4,368.2 C800.7,363.9 802.2,360.6 804,357 C805.8,353.4 807.6,350 810.4,346.3 C813.2,342.6 817.4,338.9 821,335 C824.6,331.1 829,326.8 832.3,322.6 C835.5,318.4 838.2,314.3 840.5,310 C842.8,305.7 844.9,301.2 846,297 C847.1,292.8 846.9,289.3 847,285 C847.1,280.7 846.9,273.3 846.9,271 Z" fill="#fff" stroke="none"/>
<path d="M829.5,271 C829.3,272.8 829.2,278.6 828.5,282 C827.8,285.4 826.8,288 825,291.5 C823.2,295 820.8,299 818,303 C815.2,307 812,311.1 808.5,315.3 C805,319.5 800.6,323.8 797,328 C793.4,332.2 789.4,336.5 786.6,340.8 C783.9,345.1 782.2,349.4 780.5,354 C778.8,358.6 777.6,363.4 776.6,368.2 C775.6,373 775.1,378.1 774.6,383 C774.1,387.9 773.9,395.1 773.8,397.5" fill="none" stroke="#101010" stroke-width="1.0"/>
<path d="M846.9,271 C846.9,273.3 847.1,280.7 847,285 C846.9,289.3 847.1,292.8 846,297 C844.9,301.2 842.8,305.7 840.5,310 C838.2,314.3 835.5,318.4 832.3,322.6 C829,326.8 824.6,331.1 821,335 C817.4,338.9 813.2,342.6 810.4,346.3 C807.6,350 805.8,353.4 804,357 C802.2,360.6 800.7,363.9 799.4,368.2 C798.1,372.5 797.2,378.1 796.4,383 C795.6,387.9 795.1,395.1 794.8,397.5" fill="none" stroke="#101010" stroke-width="1.0"/>
<path d="M772.9,396.5 C776,399.8 792,399.8 795.8,396.5 L795.8,404.5 C792,408.4 776,408.4 772.9,404.5 Z" fill="#fff" stroke="#101010" stroke-width="1.12"/>
<path d="M772.9,399.4 C776,402.8 792,402.8 795.8,399.4 M772.9,402 C776,405.6 792,405.6 795.8,402" fill="none" stroke="#101010" stroke-width="0.9"/>
<path d="M775.4,406.6 L776,412.4 C779,416.2 790,416.2 793,412.4 L793.4,406.6" fill="#fff" stroke="#101010" stroke-width="1.12"/>
<path d="M781,404.8 L781.8,405.2 M787,404.6 L788,404.6" fill="none" stroke="#101010" stroke-width="1.34"/>
<path d="M749.4,402.2 L762.4,395 L765.6,396.4 L765.8,404 L772.4,407.6 L772.4,414 L765,410.6 L752.6,414.6 L749.4,412.8 Z" fill="#fff" stroke="#101010" stroke-width="1.12"/>
<path d="M752.6,404 L765.6,396.8 M752.6,404 L752.6,414.4 M749.4,402.2 L752.6,404" fill="none" stroke="#101010" stroke-width="0.9"/>
<circle cx="757.6" cy="406.6" r="2.6" fill="#fff" stroke="#101010" stroke-width="1.12"/>
<circle cx="757.6" cy="406.6" r="1.1" fill="none" stroke="#101010" stroke-width="0.78"/>
<ellipse cx="768.4" cy="404.4" rx="2.6" ry="3.6" fill="#fff" stroke="#101010" stroke-width="1.01"/>
<path d="M845,271 C845.1,272.2 845.2,274.5 845.5,278.5 C845.8,282.5 845.5,289 847,295 C848.5,301 851.5,307.6 854.5,314.6 C857.5,321.6 862.4,330.4 865,337.1 C867.6,343.9 869.2,349.1 870.3,355.1 C871.4,361.1 871,367.4 871.8,373.2 C872.5,379 873.7,385.2 874.8,389.7 C875.9,394.2 878,398.3 878.6,400 L891,396.6 C890.5,395.5 889.2,393.6 888.3,389.7 C887.3,385.8 886.2,379.5 885.3,373.2 C884.4,366.9 884.2,358.9 883.1,352.1 C882,345.3 880.9,338.9 878.6,332.6 C876.3,326.4 872.6,320.9 869.5,314.6 C866.4,308.3 862,301 859.8,295 C857.5,289 856.6,282.5 856,278.5 C855.4,274.5 856,272.2 856,271 Z" fill="#fff" stroke="none"/>
<path d="M845,271 C845.1,272.2 845.2,274.5 845.5,278.5 C845.8,282.5 845.5,289 847,295 C848.5,301 851.5,307.6 854.5,314.6 C857.5,321.6 862.4,330.4 865,337.1 C867.6,343.9 869.2,349.1 870.3,355.1 C871.4,361.1 871,367.4 871.8,373.2 C872.5,379 873.7,385.2 874.8,389.7 C875.9,394.2 878,398.3 878.6,400" fill="none" stroke="#101010" stroke-width="1.0"/>
<path d="M856,271 C856,272.2 855.4,274.5 856,278.5 C856.6,282.5 857.5,289 859.8,295 C862,301 866.4,308.3 869.5,314.6 C872.6,320.9 876.3,326.4 878.6,332.6 C880.9,338.9 882,345.3 883.1,352.1 C884.2,358.9 884.4,366.9 885.3,373.2 C886.2,379.5 887.3,385.8 888.3,389.7 C889.2,393.6 890.5,395.5 891,396.6" fill="none" stroke="#101010" stroke-width="1.0"/>
<path d="M845.7,281 Q851.4,285.3 857.1,283.2 M846.3,287.1 Q852.4,291.4 858.5,289.3 M846.8,293.2 Q853.4,297.5 860,295.4 M848.6,299.3 Q855.8,303.6 863,301.5 M851,305.4 Q858.5,309.7 866,307.6 M853.3,311.5 Q861.2,315.8 869.1,313.7 M855.9,317.6 Q864,321.9 872.1,319.8 M858.7,323.7 Q867,328 875.2,325.9 M861.6,329.8 Q869.9,334.1 878.3,332 M864.4,335.9 Q872,339.4 879.5,336.4 M866.4,342 Q873.7,345.5 880.9,342.5 M868.2,348.1 Q875.3,351.6 882.3,348.6 M870,354.2 Q876.7,357.7 883.4,354.7 M870.7,360.3 Q877.3,362.9 883.8,359.1 M871.2,366.4 Q877.9,369 884.5,365.2 M871.7,372.5 Q878.4,375.1 885.1,371.3 M872.8,378.6 Q879.4,381.2 886.1,377.4 M873.9,384.7 Q880.5,387.3 887.2,383.5 M875.2,390.8 Q881.7,393.4 888.3,389.6 " fill="none" stroke="#101010" stroke-width="0.8"/>
<ellipse cx="884.4" cy="398.2" rx="6.6" ry="2.8" transform="rotate(-17 884.4 398.2)" fill="#fff" stroke="#101010" stroke-width="1.01"/>
<ellipse cx="881.4" cy="399.4" rx="2.2" ry="1.2" transform="rotate(-17 881.4 399.4)" fill="none" stroke="#101010" stroke-width="0.78"/>
<path d="M827.6,229 V272" fill="none" stroke="#101010" stroke-width="4.2" stroke-linecap="butt" stroke-linejoin="round"/>
<path d="M827.6,229 V272" fill="none" stroke="#fff" stroke-width="2.2" stroke-linecap="butt" stroke-linejoin="round"/>
<path d="M825.4,236.2 L823.6,237 M825.4,268.6 L823.4,269.4" fill="none" stroke="#101010" stroke-width="1.46"/>
<path d="M829.4,253 C829.4,249.6 833,248 837,248 C841.4,248 844.7,249.6 844.7,253 L844.7,266 C844.7,270 841,271.6 837,271.6 C833,271.6 829.4,270 829.4,266 Z" fill="#fff" stroke="#101010" stroke-width="1.01"/>
<path d="M829.4,262.5 C831,266.5 843,266.5 844.7,262.5 M829.4,265 C831,269 843,269 844.7,265" fill="none" stroke="#101010" stroke-width="0.9"/>
<rect x="833.6" y="234.5" width="10" height="29.5" fill="#fff" stroke="none"/>
<path d="M833.4,235.5 C835,236.5 842,236.5 843.8,235.5 M833.4,237.6 C835,238.6 842,238.6 843.8,237.6 M833.4,239.6 C835,240.6 842,240.6 843.8,239.6 M833.4,241.7 C835,242.7 842,242.7 843.8,241.7 M833.4,243.7 C835,244.7 842,244.7 843.8,243.7 M833.4,245.8 C835,246.8 842,246.8 843.8,245.8 M833.4,247.8 C835,248.8 842,248.8 843.8,247.8 M833.4,249.9 C835,250.9 842,250.9 843.8,249.9 M833.4,251.9 C835,252.9 842,252.9 843.8,251.9 M833.4,254 C835,255 842,255 843.8,254 M833.4,256 C835,257 842,257 843.8,256 M833.4,258.1 C835,259.1 842,259.1 843.8,258.1 M833.4,260.1 C835,261.1 842,261.1 843.8,260.1 M833.4,262.2 C835,263.2 842,263.2 843.8,262.2 " fill="none" stroke="#101010" stroke-width="0.85"/>
<path d="M833.6,234.5 V264 M843.7,238 V264" fill="none" stroke="#101010" stroke-width="0.9"/>
<rect x="844.8" y="244" width="10.6" height="33" fill="#fff" stroke="none"/>
<path d="M844.6,246 C846.4,247.1 853.8,247.1 855.6,246 M844.6,248.1 C846.4,249.2 853.8,249.2 855.6,248.1 M844.6,250.1 C846.4,251.2 853.8,251.2 855.6,250.1 M844.6,252.2 C846.4,253.3 853.8,253.3 855.6,252.2 M844.6,254.2 C846.4,255.3 853.8,255.3 855.6,254.2 M844.6,256.3 C846.4,257.4 853.8,257.4 855.6,256.3 M844.6,258.3 C846.4,259.4 853.8,259.4 855.6,258.3 M844.6,260.4 C846.4,261.5 853.8,261.5 855.6,260.4 M844.6,262.4 C846.4,263.5 853.8,263.5 855.6,262.4 M844.6,264.5 C846.4,265.6 853.8,265.6 855.6,264.5 M844.6,266.5 C846.4,267.6 853.8,267.6 855.6,266.5 M844.6,268.6 C846.4,269.7 853.8,269.7 855.6,268.6 M844.6,270.6 C846.4,271.7 853.8,271.7 855.6,270.6 M844.6,272.7 C846.4,273.8 853.8,273.8 855.6,272.7 M844.6,274.7 C846.4,275.8 853.8,275.8 855.6,274.7 M844.6,276.8 C846.4,277.9 853.8,277.9 855.6,276.8 " fill="none" stroke="#101010" stroke-width="0.85"/>
<path d="M844.8,244 V277 M855.5,250 V277" fill="none" stroke="#101010" stroke-width="0.9"/>
<path d="M857,247.4 L881,255.2 L899.4,266 L899.4,281.4 L888,279 L857,259 Z" fill="#fff" stroke="none"/>
<path d="M857.2,247.6 L866,250.4 M870.5,252 L882,256.4 M857.2,258.8 L864,262.8 M869.5,266 L876.5,270" fill="none" stroke="#101010" stroke-width="1.0"/>
<path d="M857.2,247.6 C855.6,250.5 855.6,255.5 857.2,258.8" fill="none" stroke="#101010" stroke-width="1.01"/>
<path d="M867.2,249.6 C864.4,253 863.8,259.5 866.4,264.4 M870.4,250.8 C867.6,254.5 867,261 869.6,266" fill="none" stroke="#101010" stroke-width="1.12"/>
<path d="M863.2,257 L866.6,256 L868,262.4 L864.6,263.6 Z" fill="#101010" stroke="#101010" stroke-width="0.9"/>
<path d="M879.6,255.6 C876.8,259 876.4,266 878.6,271 M882.4,256.8 C879.6,260.5 879.4,267.5 881.4,272.4" fill="none" stroke="#101010" stroke-width="1.12"/>
<path d="M885,262 C884,262.6 884,267 885.6,268 C887,268.4 887.8,264 885,262" fill="none" stroke="#101010" stroke-width="0.9"/>
<path d="M882.4,256.8 L893.5,262 L899,266 M881.4,272.4 L889,277.6 L897.4,281.4" fill="none" stroke="#101010" stroke-width="1.0"/>
<path d="M884.8,273.6 L889.5,261 M888.8,277 L893,263 M893,280 L897.4,265.4 M897.4,281.4 L899.4,271" fill="none" stroke="#101010" stroke-width="0.9"/>
<path d="M893.4,262.4 L899,276.6 M888.8,266 L893,280" fill="none" stroke="#101010" stroke-width="0.78"/>
<path d="M869.2,240.6 L877.4,246 L877.4,252.6 L873.6,250.4 L869.2,247.4 Z" fill="#fff" stroke="#101010" stroke-width="1.01"/>
<path d="M870.8,243.4 L875.6,246.6 L875.6,250.8" fill="none" stroke="#101010" stroke-width="0.78"/>
<path d="M884.6,252.4 L887.8,249.6 L889.8,252 L892,250.4 L893.2,255 L890,258.6 L887.4,256 L885.6,257.4 Z" fill="#2a2a2a" stroke="#101010" stroke-width="0.9"/>
<path d="M883,258.6 L891.6,262.4" fill="none" stroke="#101010" stroke-width="1.34"/>
<path d="M899.4,266 L913,272.6 M898,281.6 L909.5,287" fill="none" stroke="#101010" stroke-width="1.0"/>
<g transform="translate(907,278.6) rotate(32)" stroke="#101010" stroke-width="0.85" fill="none"><path d="M-5.2,-3.5 L-3.1,3.5 M-5.2,3.5 L-3.1,-3.5 M-3.1,-3.5 L-1,3.5 M-3.1,3.5 L-1,-3.5 M-1,-3.5 L1.1,3.5 M-1,3.5 L1.1,-3.5 M1.1,-3.5 L3.2,3.5 M1.1,3.5 L3.2,-3.5 M3.2,-3.5 L5.2,3.5 M3.2,3.5 L5.2,-3.5 M-5.2,0 L5.2,0"/></g>
<path d="M899.6,229 C896,236 895.6,252 898.8,263" fill="none" stroke="#101010" stroke-width="1.01"/>
<ellipse cx="912.4" cy="245" rx="15" ry="22" transform="rotate(20 912.4 245)" fill="#fff" stroke="#101010" stroke-width="1.12"/>
<path d="M899,262.4 L899.6,268 L903.6,269 M905.4,265.6 L906,270.4" fill="none" stroke="#101010" stroke-width="0.9"/>
<path d="M812.4,184 L812.4,222 L822,227.6 L822,232.6 L843.4,242.4 L853,237 L853,231 L862.4,226 L862.4,207 L851.4,207.6 Z" fill="#fff" stroke="none"/>
<path d="M812.4,184 V222 L822.4,227.8 M815.6,187.5 V224 M820.9,190.8 V226.6" fill="none" stroke="#101010" stroke-width="1.01"/>
<path d="M812.4,204.4 L820.9,209 M812.4,209.4 L820.9,214 M812.4,215 L820.9,219.6" fill="none" stroke="#101010" stroke-width="0.9"/>
<path d="M822.4,227.6 L843.6,237.4 L852.6,232.4 M822.4,227.6 L822.4,232.4 L843.6,242.4 L852.6,237.4 L852.6,232.4 M843.6,237.4 V242.4" fill="none" stroke="#101010" stroke-width="1.01"/>
<path d="M824.5,224.6 L841,232.2" fill="none" stroke="#101010" stroke-width="2.24"/>
<ellipse cx="836.3" cy="227.2" rx="1.8" ry="1" fill="#101010"/>
<path d="M824.6,213.6 C823.4,209.6 829,207.6 832.6,210.2 L838,213.4" fill="none" stroke="#101010" stroke-width="2.24"/>
<path d="M826.6,216.6 C824.4,213 829.5,211.4 832,213.6 L833,219" fill="none" stroke="#101010" stroke-width="1.01"/>
<path d="M835.4,210.6 L837.6,209 L838.4,214.2 Z" fill="#101010"/>
<path d="M832.4,216.4 L842.4,221.4 L842.4,227.4 L832.4,222.6 Z" fill="#fff" stroke="#101010" stroke-width="1.12"/>
<circle cx="846.8" cy="213.6" r="3.5" fill="#fff" stroke="#101010" stroke-width="1.12"/>
<circle cx="846.8" cy="213.8" r="1.6" fill="none" stroke="#101010" stroke-width="0.78"/>
<path d="M842.4,207 C850,207 853,212 852.2,220 L851.4,231" fill="none" stroke="#101010" stroke-width="1.01"/>
<path d="M855.6,212 C855.6,209.6 860.4,209.6 860.4,212 L860.4,221 C860.4,223 855.6,223 855.6,221 Z" fill="#fff" stroke="#101010" stroke-width="1.01"/>
<path d="M860.6,210 C860.6,207.8 865.2,207.8 865.2,210 L865.2,218.6 C865.2,220.6 860.6,220.6 860.6,218.6 Z" fill="#fff" stroke="#101010" stroke-width="1.01"/>
<path d="M855.6,214.4 C857,215.8 859.4,215.8 860.4,214.4 M860.6,212.6 C862,214 864.4,214 865.2,212.6" fill="none" stroke="#101010" stroke-width="0.9"/>
<path d="M856.4,223 V233 M862.2,221.4 V228" fill="none" stroke="#101010" stroke-width="0.9"/>
<path d="M843.7,225.8 C852,226.6 858,224.6 863,221.9 C867.5,219.4 870,215.8 873.7,214.9 C878,214 881.4,214.4 883.4,216 L887.2,220.2 C889.6,222.2 892.6,222 894.2,220.4 C896.2,218 896.2,214.6 897.4,212.2 L901.4,209.6" fill="none" stroke="#101010" stroke-width="3" stroke-linecap="butt" stroke-linejoin="round"/>
<path d="M843.7,225.8 C852,226.6 858,224.6 863,221.9 C867.5,219.4 870,215.8 873.7,214.9 C878,214 881.4,214.4 883.4,216 L887.2,220.2 C889.6,222.2 892.6,222 894.2,220.4 C896.2,218 896.2,214.6 897.4,212.2 L901.4,209.6" fill="none" stroke="#fff" stroke-width="1.4" stroke-linecap="butt" stroke-linejoin="round"/>
<path d="M885.6,214.4 L888.8,216.8 L886.2,220.2" fill="none" stroke="#101010" stroke-width="0.9"/>
<path d="M846,239.4 C852,238.4 856,240.8 857.6,245.6" fill="none" stroke="#101010" stroke-width="2.8" stroke-linecap="butt" stroke-linejoin="round"/>
<path d="M846,239.4 C852,238.4 856,240.8 857.6,245.6" fill="none" stroke="#fff" stroke-width="1.2" stroke-linecap="butt" stroke-linejoin="round"/>
<path d="M885,204.6 L899.6,210.4 M883.4,206.6 L895.4,211.6" fill="none" stroke="#101010" stroke-width="0.95"/>
<path d="M879.4,233.6 L881.2,230.6 L886.4,228.2 L888.8,229.6 L890.4,227.4 L892.6,228.2 L891.8,231.4 L897.4,232.6 L893.4,235.6 L896.4,237.6 L888.8,239.8 L886.8,238 L882,239.4 L879.6,237.6 Z" fill="#fff" stroke="#101010" stroke-width="1.06"/>
<path d="M888.6,235.4 L896,232.8 L892.6,235.8 L895.6,237.4 L889.2,239.2 Z" fill="#101010"/>
<ellipse cx="881.4" cy="235.6" rx="1.5" ry="2.1" fill="#fff" stroke="#101010" stroke-width="0.9"/>
<path d="M900.4,210.4 L901.4,207.8 L908.6,207 C913.4,208.4 915.6,212.6 915.6,217 L915.8,224.6 L908.4,227.4 L907.8,221.6 C907.6,217.6 905.6,215.4 902.4,214.6 L900.4,214.4 Z" fill="#fff" stroke="#101010" stroke-width="1.12"/>
<path d="M902.4,208.6 C909,209.4 911.6,213.6 911.8,218.6 L911.8,226 M904.2,211.4 L904.2,215 M907.8,221.6 L915.6,218.6" fill="none" stroke="#101010" stroke-width="0.9"/>
<path d="M906.8,223.4 L908,228.6 L915.8,225.8" fill="none" stroke="#101010" stroke-width="1.68"/>
<path d="M812.4,184.2 L812.4,175.6 Q812.8,174.5 813.9,174 L843.3,155.3 Q845,154.5 846.8,155.7 L859.6,163.1 L862.4,165 L872,170.9 L880.1,175.9 Q882.6,177.5 882.6,179.8 L883,186 L872,193 L862.4,201.8 L851.2,207.6 Z" fill="#fff" stroke="none"/>
<path d="M812.4,184.2 L812.4,175.6 Q812.8,174.5 813.9,174 L843.3,155.3 Q845,154.5 846.8,155.7 L859.6,163.1 L859.6,166.8 L862.4,168.3" fill="none" stroke="#101010" stroke-width="1.12"/>
<path d="M872,170.9 L880.1,175.9 Q882.6,177.5 882.6,179.8 L883,186" fill="none" stroke="#101010" stroke-width="1.12"/>
<path d="M872,183.3 L880.1,178.3" fill="none" stroke="#101010" stroke-width="1.01"/>
<path d="M812.4,184.6 L851,207.8" fill="none" stroke="#101010" stroke-width="2.58"/>
<path d="M812.6,186.6 L851,209.6 L862.4,203.6" fill="none" stroke="#101010" stroke-width="0.9"/>
<path d="M851,207.8 L862.4,201.6" fill="none" stroke="#101010" stroke-width="1.79"/>
<path d="M844,190.8 Q848,194.4 851.8,193.6 L862.4,188.8" fill="none" stroke="#101010" stroke-width="1.01"/>
<path d="M851.8,194 L852.1,205.6" fill="none" stroke="#101010" stroke-width="1.01"/>
<path d="M822.4,171.3 L841.9,159.9 M822.4,171.3 L845.4,184.7" fill="none" stroke="#101010" stroke-width="1.01"/>
<path d="M839.7,164.9 L843.6,162.8 L859.9,172.3 L856,174.5 Z" fill="none" stroke="#101010" stroke-width="1.01"/>
<path d="M833.4,176 L834.6,173.6 L836.6,176.2 L838,173.2 L840,175.8 L841.6,172.8 L843.6,175.2 L845,172.2 L847.4,173.4" fill="none" stroke="#101010" stroke-width="1.9"/>
<path d="M829.1,181.4 L832.8,179.6 L836,181.4 L833.3,183.4 M829.5,181.9 V192.2 M833.3,183.4 V192.4" fill="none" stroke="#101010" stroke-width="1.01"/>
<path d="M830.6,190.8 L833.2,189.4 L833.2,193.6 Z" fill="#101010"/>
<path d="M814.6,174.5 L820.2,176.9 M824.1,178.7 L829.3,181.6 M836.2,186.1 L840.4,188.6" fill="none" stroke="#101010" stroke-width="1.01"/>
<rect x="862.4" y="153" width="9.2" height="58" fill="#fff" stroke="none"/>
<defs><pattern id="xh" width="2.6" height="2.6" patternUnits="userSpaceOnUse"><rect width="2.6" height="2.6" fill="#9a9a9a"/><path d="M0,0 L2.6,2.6 M2.6,0 L0,2.6" stroke="#111" stroke-width="0.95"/></pattern></defs>
<path d="M865.4,181 L871.6,177.4 L871.6,210 L865.4,212 Z" fill="url(#xh)" stroke="none"/>
<path d="M862.4,153.4 V207.4 M871.6,154.4 V211" fill="none" stroke="#101010" stroke-width="1.12"/>
<path d="M866.5,150 V157.4" fill="none" stroke="#101010" stroke-width="1.01"/>
<path d="M865.4,181 V212 M865.4,212 C866.5,213.6 870,213.2 871.6,211" fill="none" stroke="#101010" stroke-width="0.9"/>
<path d="M873,201.4 L878.8,198.6 L885,201.4 L885,205 L879,207.8 L873,204.8 Z" fill="#fff" stroke="#101010" stroke-width="1.01"/>
<path d="M878.8,202 L881.6,203.6 M880.2,201.4 L880.2,204.4" fill="none" stroke="#101010" stroke-width="0.78"/>
<path d="M872,196 L876,193.6" fill="none" stroke="#101010" stroke-width="1.01"/>
<circle cx="878" cy="190.4" r="3.5" fill="#fff" stroke="#101010" stroke-width="1.06"/>
<circle cx="883.7" cy="193.3" r="3.9" fill="#fff" stroke="#101010" stroke-width="1.06"/>
<path d="M1014.4,187 L1017.6,185.6 L1019.6,187.6 L1022.6,188 L1023.4,192.4 L1021,194 L1022,196.8 L1018.4,197.6 L1016.4,195 L1014.2,195.6 L1013.6,191 Z" fill="#1c1c1c" stroke="#111" stroke-width="0.84"/>
<path d="M1016.1,195 V243.8 M1019,197 V241" fill="none" stroke="#111" stroke-width="1.05"/>
<path d="M1017.4,200.5 L1027.9,212.3 V257.6" fill="none" stroke="#111" stroke-width="1.05"/>
<path d="M1022.6,196.6 L1035.8,204.5 V249.7 M1038.7,206.3 V249.7 M1035.8,204.5 L1038.7,206.3" fill="none" stroke="#111" stroke-width="1.05"/>
<path d="M1021.6,244 L1022.8,238.6 L1024.2,238" fill="none" stroke="#111" stroke-width="0.95"/>
<path d="M1016.1,243.8 L1027.9,250.6" fill="none" stroke="#111" stroke-width="0.84"/>
<path d="M1028,245.6 L1045,253.4 M1028,249 L1045,257" fill="none" stroke="#111" stroke-width="0.95"/>
<path d="M1029,248.4 L1033.6,246.6 L1037,249.4 L1036.4,253.6 L1031.6,254.6 L1028.6,252.4 Z" fill="#2a2a2a" stroke="#111" stroke-width="0.73"/>
<path d="M1038.4,251.4 L1042,250.6 L1045.4,253.6 L1044,257.4 L1040,257.8 L1038,255.4 Z" fill="#2a2a2a" stroke="#111" stroke-width="0.73"/>
<circle cx="1032.6" cy="250.4" r="1.5" fill="#fff" stroke="#111" stroke-width="0.63"/>
<path d="M1045.4,255 C1050,253.4 1055,253.4 1058.4,255 C1061,257 1062.6,261 1064.6,263.2 L1067.5,261.6 V211.6 L1070.4,209.6 L1080.4,214.6" fill="none" stroke="#101010" stroke-width="2.5" stroke-linecap="butt" stroke-linejoin="round"/>
<path d="M1045.4,255 C1050,253.4 1055,253.4 1058.4,255 C1061,257 1062.6,261 1064.6,263.2 L1067.5,261.6 V211.6 L1070.4,209.6 L1080.4,214.6" fill="none" stroke="#fff" stroke-width="0.9" stroke-linecap="butt" stroke-linejoin="round"/>
<path d="M1080,208.4 L1100.7,196.6 L1112.6,204.5 L1112.6,210.6 L1090.9,222.4 L1080,214.6 Z" fill="#fff" stroke="#111" stroke-width="1"/>
<path d="M1080,208.4 L1090.9,216.3 L1112.6,204.5 M1090.9,216.3 V222.4" fill="none" stroke="#111" stroke-width="0.95"/>
<path d="M1081,209.4 C1080.4,206 1083.6,204.2 1085.6,206 L1085.6,212.6 C1084,214.2 1081.6,213 1081,211.6 Z" fill="#fff" stroke="#111" stroke-width="0.95"/>
<path d="M1086,204 C1089,201.4 1094,202 1096,206.4 M1088.4,203.2 C1091,201.8 1093.6,203 1094.6,207.2" fill="none" stroke="#111" stroke-width="0.95"/>
<path d="M1092.6,216.4 L1092.6,221.6 M1094.4,215.4 V220.4" fill="none" stroke="#111" stroke-width="0.73"/>
<path d="M1108.6,354.8 L1096.5,221.3" stroke="#0c0c0c" stroke-width="1.9" fill="none"/>
<path d="M1095.8,213.3 L1099.8,222 L1093.4,222.6 Z" fill="#0c0c0c"/>
<rect x="1097.8" y="405" width="9.8" height="22.6" fill="#fff" stroke="none"/>
<rect x="1115.5" y="398" width="9.9" height="29.6" fill="#fff" stroke="none"/>
<path d="M1097.8,407 H1103.4 L1102,427.6 H1097.8 Z" fill="url(#xh)"/>
<path d="M1115.5,402 H1121 L1119.6,427.6 H1115.5 Z" fill="url(#xh)"/>
<path d="M1097.8,405 V427.6 M1107.6,405 V427.6 M1115.5,398 V427.6 M1125.4,396 V427.6" fill="none" stroke="#111" stroke-width="1"/>
<path d="M1091.9,404 L1093.9,390.4 C1098,389.4 1104,389 1109.6,387.6 C1114,385 1122,380 1129.3,378.4 L1134.2,386.3 L1133.2,394.2 C1128,396.4 1124,398 1120.6,401.6 C1117.6,405.4 1113,407.4 1109,406.4 C1106,406 1102,409.4 1098,409.4 C1095,409.2 1092.6,407 1091.9,404 Z" fill="#fff" stroke="#111" stroke-width="1.05"/>
<path d="M1092.2,400.8 C1094,403.6 1097,405.8 1100,405.4 C1103,405 1106,402.4 1109.4,402.8 C1113,403.4 1117,401.4 1119.6,398 C1122.6,394.6 1128,392.6 1133.6,390.4" fill="none" stroke="#111" stroke-width="0.95"/>
<path d="M1096.8,380 L1109.6,380 L1109.6,396.4 C1107,399.4 1099.4,399.4 1096.8,396.4 Z" fill="#fff" stroke="#111" stroke-width="1.05"/>
<path d="M1098,373 C1098,369.6 1108.6,369.6 1108.6,373 L1108.6,378.6 C1106,381 1100,381 1098,378.6 Z" fill="#fff" stroke="#111" stroke-width="1.05"/>
<ellipse cx="1103.3" cy="372.8" rx="3.2" ry="1.7" fill="#fff" stroke="#111" stroke-width="0.84"/>
<path d="M1100.6,375.6 V380.2 M1106,375.6 V380.2" fill="none" stroke="#111" stroke-width="0.73"/>
<path d="M1096.8,380 C1099,382.4 1107.4,382.4 1109.6,380" fill="none" stroke="#111" stroke-width="0.84"/>
<path d="M1114.5,371 L1127.3,371 L1127.3,385.4 C1124.6,388.4 1117,388.4 1114.5,385.4 Z" fill="#fff" stroke="#111" stroke-width="1.05"/>
<path d="M1115.2,363.6 C1115.2,360 1126.2,360 1126.2,363.6 L1126.2,369.6 C1123.6,372 1117.6,372 1115.2,369.6 Z" fill="#fff" stroke="#111" stroke-width="1.05"/>
<ellipse cx="1120.7" cy="363.4" rx="3.3" ry="1.7" fill="#fff" stroke="#111" stroke-width="0.84"/>
<path d="M1118,366.2 V371.2 M1123.6,366.2 V371.2" fill="none" stroke="#111" stroke-width="0.73"/>
<path d="M1114.5,371 C1117,373.4 1125,373.4 1127.3,371" fill="none" stroke="#111" stroke-width="0.84"/>
<path d="M809,157.6 L816.8,162.7" stroke="#0c0c0c" stroke-width="1.5" fill="none"/>
<path d="M821.8,166 L814.3,164.7 L817.6,159.7 Z" fill="#0c0c0c"/>
<circle cx="801.5" cy="147.8" r="11.4" fill="#fff" stroke="#0c0c0c" stroke-width="1.7"/>
<text x="801.5" y="152.3" text-anchor="middle" font-family="Liberation Serif, serif" font-weight="bold" font-size="13.6" fill="#0c0c0c">2</text>
<path d="M1004.3,160.2 L1012,180.2" stroke="#0c0c0c" stroke-width="1.5" fill="none"/>
<path d="M1014.1,185.8 L1008.8,180.3 L1014.4,178.2 Z" fill="#0c0c0c"/>
<circle cx="1000" cy="148.6" r="11.4" fill="#fff" stroke="#0c0c0c" stroke-width="1.7"/>
<text x="1000" y="153.1" text-anchor="middle" font-family="Liberation Serif, serif" font-weight="bold" font-size="13.6" fill="#0c0c0c">2</text>
<path d="M996.4,216 L1025.2,226.1" stroke="#0c0c0c" stroke-width="1.5" fill="none"/>
<path d="M1030.9,228.1 L1023.3,228.6 L1025.3,223 Z" fill="#0c0c0c"/>
<circle cx="985.4" cy="211.9" r="11.4" fill="#fff" stroke="#0c0c0c" stroke-width="1.7"/>
<text x="985.4" y="216.4" text-anchor="middle" font-family="Liberation Serif, serif" font-weight="bold" font-size="13.6" fill="#0c0c0c">1</text>
<path d="M1164.7,190.7 L1118.3,204.7" stroke="#0c0c0c" stroke-width="1.5" fill="none"/>
<path d="M1112.6,206.4 L1118.4,201.5 L1120.2,207.3 Z" fill="#0c0c0c"/>
<circle cx="1176.3" cy="185.4" r="11.4" fill="#fff" stroke="#0c0c0c" stroke-width="1.7"/>
<text x="1176.3" y="189.9" text-anchor="middle" font-family="Liberation Serif, serif" font-weight="bold" font-size="13.6" fill="#0c0c0c">15</text>
<path d="M767.4,364.6 L770.3,366" stroke="#0c0c0c" stroke-width="1.5" fill="none"/>
<path d="M775.7,368.6 L768.1,368.3 L770.7,362.9 Z" fill="#0c0c0c"/>
<circle cx="757.4" cy="357.3" r="11.4" fill="#fff" stroke="#0c0c0c" stroke-width="1.7"/>
<text x="757.4" y="361.8" text-anchor="middle" font-family="Liberation Serif, serif" font-weight="bold" font-size="13.6" fill="#0c0c0c">11</text>
<path d="M851.5,357.3 L861.4,349.7" stroke="#0c0c0c" stroke-width="1.5" fill="none"/>
<path d="M866.1,346 L862.4,352.7 L858.7,347.9 Z" fill="#0c0c0c"/>
<circle cx="843" cy="366.2" r="11.4" fill="#fff" stroke="#0c0c0c" stroke-width="1.7"/>
<text x="843" y="370.7" text-anchor="middle" font-family="Liberation Serif, serif" font-weight="bold" font-size="13.6" fill="#0c0c0c">12</text>
<path d="M913.6,379.2 L903.7,392.7" stroke="#0c0c0c" stroke-width="1.5" fill="none"/>
<path d="M900.2,397.5 L901.9,390.1 L906.8,393.6 Z" fill="#0c0c0c"/>
<circle cx="919.6" cy="368.6" r="11.4" fill="#fff" stroke="#0c0c0c" stroke-width="1.7"/>
<text x="919.6" y="373.1" text-anchor="middle" font-family="Liberation Serif, serif" font-weight="bold" font-size="13.6" fill="#0c0c0c">6</text>
<path d="M1153.9,368.6 L1133.1,374" stroke="#0c0c0c" stroke-width="1.5" fill="none"/>
<path d="M1127.3,375.5 L1133.3,370.8 L1134.8,376.6 Z" fill="#0c0c0c"/>
<circle cx="1164.3" cy="364.3" r="11.4" fill="#fff" stroke="#0c0c0c" stroke-width="1.7"/>
<text x="1164.3" y="368.8" text-anchor="middle" font-family="Liberation Serif, serif" font-weight="bold" font-size="13.6" fill="#0c0c0c">14</text>
<path d="M1075.2,399.1 L1091.7,388.5" stroke="#0c0c0c" stroke-width="1.5" fill="none"/>
<path d="M1096.8,385.3 L1092.5,391.6 L1089.3,386.5 Z" fill="#0c0c0c"/>
<circle cx="1065.3" cy="408.7" r="11.4" fill="#fff" stroke="#0c0c0c" stroke-width="1.7"/>
<text x="1065.3" y="413.2" text-anchor="middle" font-family="Liberation Serif, serif" font-weight="bold" font-size="13.6" fill="#0c0c0c">13</text>
<path d="M757.9,461.9 L729,485.5" stroke="#0c0c0c" stroke-width="1.5" fill="none"/>
<path d="M724.4,489.3 L727.9,482.5 L731.7,487.2 Z" fill="#0c0c0c"/>
<circle cx="767.5" cy="451.4" r="11.4" fill="#fff" stroke="#0c0c0c" stroke-width="1.7"/>
<text x="767.5" y="455.9" text-anchor="middle" font-family="Liberation Serif, serif" font-weight="bold" font-size="13.6" fill="#0c0c0c">10</text>
<path d="M817.3,509.8 L819.2,520.4" stroke="#0c0c0c" stroke-width="1.5" fill="none"/>
<path d="M820.3,526.3 L816.1,519.9 L822,518.9 Z" fill="#0c0c0c"/>
<circle cx="813.7" cy="497" r="11.4" fill="#fff" stroke="#0c0c0c" stroke-width="1.7"/>
<text x="813.7" y="501.5" text-anchor="middle" font-family="Liberation Serif, serif" font-weight="bold" font-size="13.6" fill="#0c0c0c">3</text>
<path d="M739.8,547.8 L726.9,535.5" stroke="#0c0c0c" stroke-width="1.5" fill="none"/>
<path d="M722.6,531.4 L729.7,534.1 L725.6,538.4 Z" fill="#0c0c0c"/>
<circle cx="748.4" cy="556.8" r="11.4" fill="#fff" stroke="#0c0c0c" stroke-width="1.7"/>
<text x="748.4" y="561.3" text-anchor="middle" font-family="Liberation Serif, serif" font-weight="bold" font-size="13.6" fill="#0c0c0c">8</text>
<path d="M737.3,614.7 L727.4,622.3" stroke="#0c0c0c" stroke-width="1.5" fill="none"/>
<path d="M722.6,625.9 L726.3,619.3 L730,624 Z" fill="#0c0c0c"/>
<circle cx="745.8" cy="605" r="11.4" fill="#fff" stroke="#0c0c0c" stroke-width="1.7"/>
<text x="745.8" y="609.5" text-anchor="middle" font-family="Liberation Serif, serif" font-weight="bold" font-size="13.6" fill="#0c0c0c">9</text>
<path d="M842.9,602.7 L832.6,568.1" stroke="#0c0c0c" stroke-width="1.5" fill="none"/>
<path d="M830.9,562.3 L835.8,568.2 L830,569.9 Z" fill="#0c0c0c"/>
<circle cx="844.8" cy="616.5" r="11.4" fill="#fff" stroke="#0c0c0c" stroke-width="1.7"/>
<text x="844.8" y="621" text-anchor="middle" font-family="Liberation Serif, serif" font-weight="bold" font-size="13.6" fill="#0c0c0c">4</text>
<path d="M797.4,661.1 L782.7,646.4" stroke="#0c0c0c" stroke-width="1.5" fill="none"/>
<path d="M778.5,642.2 L785.6,645 L781.3,649.3 Z" fill="#0c0c0c"/>
<circle cx="805.6" cy="670.6" r="11.4" fill="#fff" stroke="#0c0c0c" stroke-width="1.7"/>
<text x="805.6" y="675.1" text-anchor="middle" font-family="Liberation Serif, serif" font-weight="bold" font-size="13.6" fill="#0c0c0c">7</text>
<path d="M919.6,748.6 L937.1,744.9" stroke="#0c0c0c" stroke-width="1.5" fill="none"/>
<path d="M943,743.6 L936.8,748 L935.5,742.1 Z" fill="#0c0c0c"/>
<circle cx="907.4" cy="747.3" r="11.4" fill="#fff" stroke="#0c0c0c" stroke-width="1.7"/>
<text x="907.4" y="751.8" text-anchor="middle" font-family="Liberation Serif, serif" font-weight="bold" font-size="13.6" fill="#0c0c0c">5</text>
<path d="M1044.8,751 L1042.3,736.9" stroke="#0c0c0c" stroke-width="1.5" fill="none"/>
<path d="M1041.2,731 L1045.4,737.4 L1039.5,738.4 Z" fill="#0c0c0c"/>
<circle cx="1046.5" cy="763.8" r="11.4" fill="#fff" stroke="#0c0c0c" stroke-width="1.7"/>
<text x="1046.5" y="768.3" text-anchor="middle" font-family="Liberation Serif, serif" font-weight="bold" font-size="13.6" fill="#0c0c0c">16</text>
<rect x="1107.2" y="784.2" width="58.4" height="19.6" fill="#fff" stroke="#0c0c0c" stroke-width="1.6"/>
<text x="1136.2" y="799.2" text-anchor="middle" font-family="Liberation Sans, sans-serif" font-weight="bold" font-size="13.3" fill="#0c0c0c">Z 25388</text>
</svg>

<!-- TOOLBAR -->
<div id="tb"></div>
<svg style="position:absolute;left:0;top:899px;will-change:transform;" width="1270" height="32" viewBox="0 899 1270 32">
<!-- first -->
<path d="M280.6 916.2 L289.2 907.8 L289.2 924.6 Z" fill="#222"/>
<path d="M292 913.2 L296.3 907.8 L296.3 924.6 L292 919.4 Z" fill="#222"/>
<!-- prev -->
<path d="M314.2 916.2 L323.2 907.8 L323.2 924.6 Z" fill="#222"/>
<!-- input -->
<rect x="337.5" y="904.5" width="141" height="23" fill="#fff" stroke="#8c8c8c" stroke-width="1"/>
<text x="343.2" y="922" font-family="Liberation Sans, sans-serif" font-size="15" fill="#111" textLength="63.5" lengthAdjust="spacingAndGlyphs">193 / 538</text>
<path d="M467.6 914.8 L474.2 914.8 L470.9 918.8 Z" fill="#222"/>
<!-- next -->
<path d="M499.3 916.2 L490.3 907.8 L490.3 924.6 Z" fill="#222"/>
<!-- last -->
<path d="M518.7 907.8 L523 913.2 L523 919.4 L518.7 924.6 Z" fill="#222"/>
<path d="M533.9 916.2 L525 907.8 L525 924.6 Z" fill="#222"/>
<!-- icon 1 -->
<path d="M548.6 919 L548.6 908 L557.6 908" fill="none" stroke="#555" stroke-width="1.2"/>
<rect x="548" y="907" width="9.8" height="2.2" fill="#3a5fa8"/>
<path d="M548.6 919 L553 919" fill="none" stroke="#555" stroke-width="1.2"/>
<rect x="555.1" y="915.8" width="12.6" height="10.6" fill="#fff" stroke="#5a5a5a" stroke-width="1.3"/>
<rect x="554.5" y="914.6" width="13.8" height="2.2" fill="#5a5a5a"/>
<path d="M566 910.2 L559.5 910.2 M562.3 907.6 L559.3 910.2 L562.3 912.8 M563.6 910.2 L563.6 914" fill="none" stroke="#2e9a6a" stroke-width="1.7"/>
<!-- icon 2 (disabled) -->
<rect x="581" y="908.4" width="12.6" height="12.4" fill="#ececec" stroke="#c4c4c4" stroke-width="1.3"/>
<rect x="587.3" y="915.6" width="12.4" height="10.6" fill="#e9eef6" stroke="#c4c4c4" stroke-width="1.3"/>
<rect x="586.7" y="914.6" width="13.6" height="2" fill="#c2cfe4"/>
<path d="M581.5 921.3 L587.5 921.3 M585.3 918.9 L587.8 921.3 L585.3 923.7" fill="none" stroke="#b5dcc8" stroke-width="1.5"/>
<!-- icon A single page -->
<rect x="1006.3" y="908.8" width="12.7" height="16.6" fill="#fff" stroke="#8a8a8a" stroke-width="1.3"/>
<path d="M1008.4 912.3 H1016.8 M1008.4 916.4 H1016.8 M1008.4 920.3 H1016.8" stroke="#a0a0a0" stroke-width="1.1"/>
<!-- icon B continuous -->
<rect x="1037.1" y="908.2" width="13.1" height="10.6" fill="#fff" stroke="#8a8a8a" stroke-width="1.3"/>
<path d="M1039.3 911.6 H1048 M1039.3 915.3 H1048" stroke="#a0a0a0" stroke-width="1.1"/>
<path d="M1037.1 927.5 V921.4 H1050.2 V927.5" fill="#fff" stroke="#8a8a8a" stroke-width="1.3"/>
<path d="M1039.3 925.4 H1048" stroke="#a0a0a0" stroke-width="1.1"/>
<!-- icon C two page selected -->
<rect x="1062" y="904.6" width="29.7" height="23.2" fill="#c3d6f2"/>
<rect x="1068.4" y="908.8" width="6.6" height="15.4" fill="#fff" stroke="#7f8794" stroke-width="1.3"/>
<rect x="1078.6" y="908.8" width="6.8" height="15.4" fill="#fff" stroke="#7f8794" stroke-width="1.3"/>
<path d="M1070.2 912.3 H1073.2 M1070.2 916.4 H1073.2 M1070.2 920.3 H1073.2 M1080.4 912.3 H1083.6 M1080.4 916.4 H1083.6 M1080.4 920.3 H1083.6" stroke="#b9a79a" stroke-width="1.1"/>
<!-- icon D two page continuous -->
<path d="M1099 908.2 H1107.6 V919 H1099 M1118.2 908.2 H1110.2 V919 H1118.2 M1099 921.2 H1107.6 V927.5 M1118.2 921.2 H1110.2 V927.5" fill="none" stroke="#8a8a8a" stroke-width="1.3"/>
<path d="M1099.4 911.6 H1105 M1099.4 915.3 H1105 M1112.6 911.6 H1118 M1112.6 915.3 H1118 M1099.4 925.4 H1105 M1112.6 925.4 H1118" stroke="#a0a0a0" stroke-width="1.1"/>
<!-- zoom -->
<text x="1146.3" y="921.7" font-family="Liberation Sans, sans-serif" font-size="14.8" fill="#333" textLength="51" lengthAdjust="spacingAndGlyphs">79.06%</text>
<path d="M1222.5 913.9 L1228.8 913.9 L1225.6 917.3 Z" fill="#222"/>
<circle cx="1243.5" cy="914.4" r="9.3" fill="none" stroke="#222" stroke-width="1.2"/>
<path d="M1238.6 914.4 H1248.5" stroke="#222" stroke-width="1.2"/>
<path d="M1261.2 915.6 H1270" stroke="#222" stroke-width="1.6"/>
</svg>
</body>
</html>
